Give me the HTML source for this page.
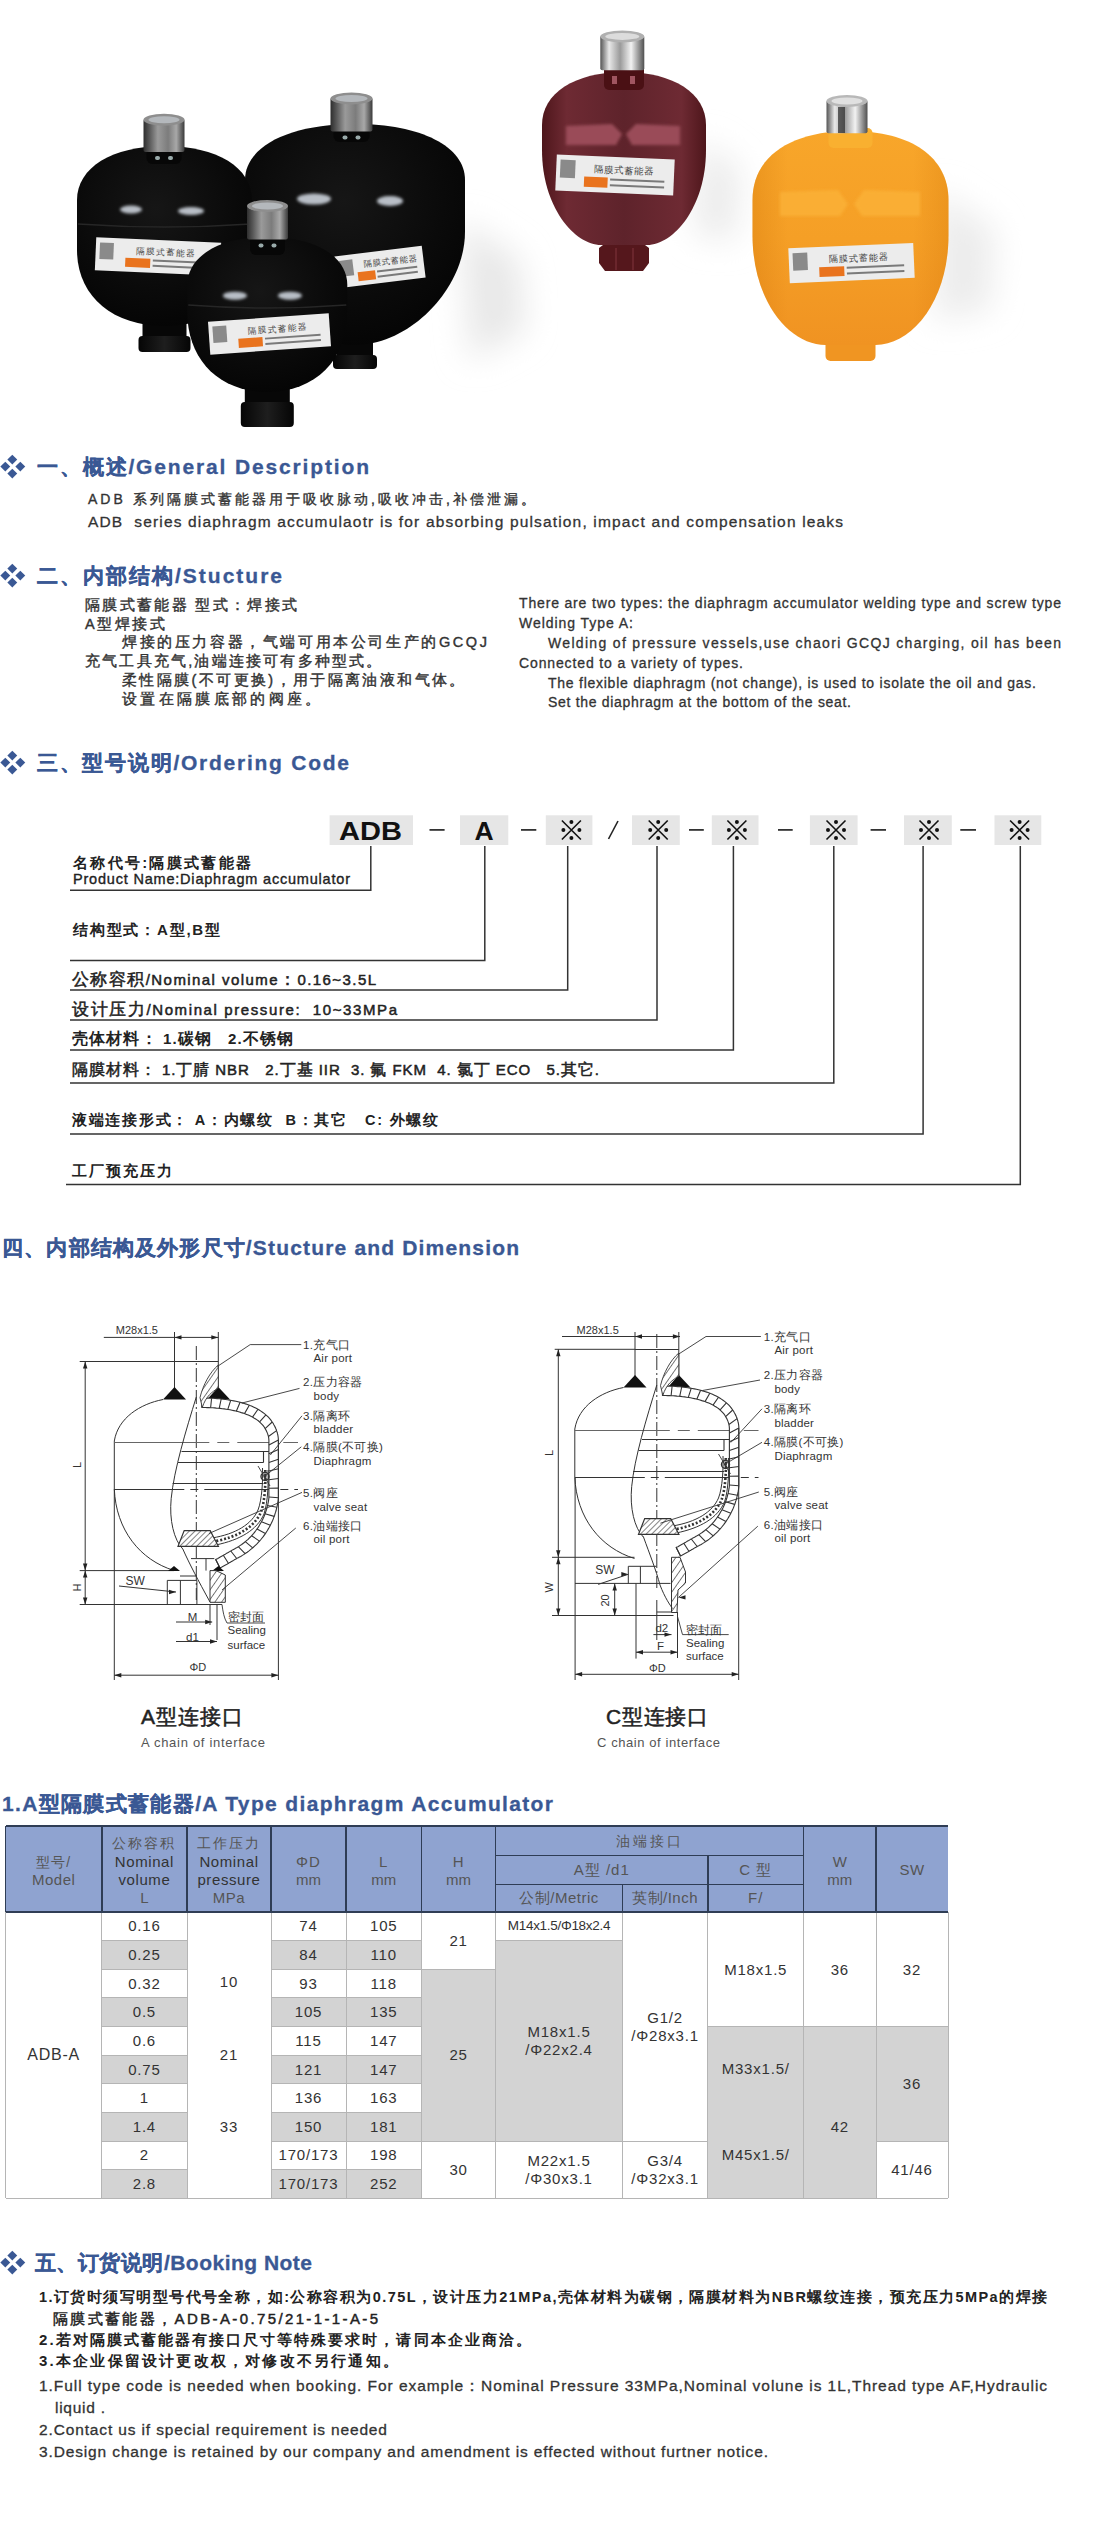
<!DOCTYPE html>
<html><head><meta charset="utf-8">
<style>
html,body{margin:0;padding:0;background:#fff;}
body{width:1096px;height:2536px;position:relative;overflow:hidden;font-family:"Liberation Sans",sans-serif;color:#222;}
.tx{position:absolute;white-space:nowrap;}
.dia{position:absolute;width:0;height:0;}
.dia i{position:absolute;width:6.6px;height:6.6px;background:#3a5894;transform:rotate(45deg);}
svg{position:absolute;}
</style></head><body>
<svg style="left:0;top:0" width="1096" height="440" viewBox="0 0 1096 440"><defs>
<radialGradient id="gblk" cx="0.45" cy="0.35" r="0.75"><stop offset="0" stop-color="#161616"/><stop offset="0.6" stop-color="#0a0a0a"/><stop offset="1" stop-color="#030303"/></radialGradient>
<linearGradient id="gcap" x1="0" x2="1" y1="0" y2="0"><stop offset="0" stop-color="#2e2e2e"/><stop offset="0.15" stop-color="#5a5a5a"/><stop offset="0.35" stop-color="#9a9a9a"/><stop offset="0.6" stop-color="#7c7c7c"/><stop offset="0.8" stop-color="#a8a8a8"/><stop offset="1" stop-color="#3a3a3a"/></linearGradient>
<linearGradient id="gport" x1="0" x2="1"><stop offset="0" stop-color="#050505"/><stop offset="0.5" stop-color="#1e1e1e"/><stop offset="1" stop-color="#050505"/></linearGradient>
<linearGradient id="gred" x1="0" x2="1" y1="0" y2="0"><stop offset="0" stop-color="#4e161b"/><stop offset="0.15" stop-color="#6e2a33"/><stop offset="0.5" stop-color="#5e232b"/><stop offset="0.85" stop-color="#6e2a33"/><stop offset="1" stop-color="#4e161b"/></linearGradient>
<linearGradient id="gorg" x1="0" x2="0" y1="0" y2="1"><stop offset="0" stop-color="#f8a62a"/><stop offset="0.5" stop-color="#f59f26"/><stop offset="1" stop-color="#f09322"/></linearGradient><linearGradient id="gedge" x1="0" x2="1"><stop offset="0" stop-color="#c86a00" stop-opacity="0.25"/><stop offset="0.18" stop-color="#c86a00" stop-opacity="0"/><stop offset="0.82" stop-color="#c86a00" stop-opacity="0"/><stop offset="1" stop-color="#c86a00" stop-opacity="0.22"/></linearGradient>
<linearGradient id="gchrome" x1="0" x2="1"><stop offset="0" stop-color="#555"/><stop offset="0.2" stop-color="#e8e8e8"/><stop offset="0.45" stop-color="#9a9a9a"/><stop offset="0.7" stop-color="#f2f2f2"/><stop offset="1" stop-color="#505050"/></linearGradient>
<filter id="blur1" x="-50%" y="-50%" width="200%" height="200%"><feGaussianBlur stdDeviation="1.6"/></filter>
<filter id="blur8" x="-50%" y="-50%" width="200%" height="200%"><feGaussianBlur stdDeviation="16"/></filter>
</defs><path d="M460,220 L520,260 L525,330 L470,360 Z" fill="#e8e8e8" filter="url(#blur8)"/><path d="M700,140 L740,170 L735,240 L695,235 Z" fill="#ebebeb" filter="url(#blur8)"/><path d="M935,190 L995,230 L990,310 L935,320 Z" fill="#ececec" filter="url(#blur8)"/><rect x="337.0" y="337" width="36" height="20" fill="#070707"/><rect x="333.0" y="355" width="44" height="14" rx="4" fill="url(#gport)"/><path d="M245,180 C245,146.4 289.0,124 355,124 C421.0,124 465,146.4 465,180 L465,232 C465,288.5 410.0,345 355,345 C300.0,345 245,288.5 245,232 Z" fill="url(#gblk)"/><ellipse cx="314" cy="199" rx="17" ry="5.5" fill="#b8bec6" filter="url(#blur1)"/><ellipse cx="390" cy="201" rx="13" ry="5" fill="#b8bec6" filter="url(#blur1)"/><rect x="333.5" y="127.5" width="36" height="14.5" rx="6" fill="#070707"/><rect x="342.5" y="135.5" width="5" height="4" rx="2" fill="#9aa"/><rect x="355.5" y="135.5" width="5" height="4" rx="2" fill="#9aa"/><rect x="330.5" y="97.5" width="42" height="34.0" rx="2" fill="url(#gcap)"/><ellipse cx="351.5" cy="98.5" rx="21.0" ry="6" fill="#8e8e8e"/><ellipse cx="351.5" cy="98.5" rx="16.0" ry="3.5" fill="#b4b8bc"/><g transform="rotate(-7 380.0 267.0)"><rect x="336" y="251" width="88" height="32" fill="#ececec"/><rect x="340" y="256" width="13.4" height="16.0" fill="#8a8a8a"/><text x="364.2" y="265.4" font-size="8.3" fill="#444" font-family="Liberation Sans" letter-spacing="1">隔膜式蓄能器</text><rect x="357.1" y="269.6" width="17.6" height="9.0" fill="#e9731e"/><rect x="376.5" y="270.2" width="40.5" height="2" fill="#7a7a7a"/><rect x="376.5" y="275.3" width="40.5" height="2" fill="#7a7a7a"/></g><rect x="142.5" y="318" width="44" height="20" fill="#070707"/><rect x="138.5" y="336" width="52" height="16" rx="4" fill="url(#gport)"/><path d="M77.0,200 C77.0,167.6 112.0,146 164.5,146 C217.0,146 252.0,167.6 252.0,200 L252.0,250 C252.0,295.6 217.0,326 164.5,326 C112.0,326 77.0,295.6 77.0,250 Z" fill="url(#gblk)"/><path d="M78.0,224 Q164.5,230 251.0,224" stroke="#262626" stroke-width="1.5" fill="none"/><ellipse cx="131" cy="209.5" rx="11" ry="4" fill="#b8bec6" filter="url(#blur1)"/><ellipse cx="191" cy="211" rx="13" ry="4" fill="#b8bec6" filter="url(#blur1)"/><rect x="146.5" y="148" width="35" height="16" rx="6" fill="#070707"/><rect x="155.0" y="156" width="5" height="4" rx="2" fill="#9aa"/><rect x="168.0" y="156" width="5" height="4" rx="2" fill="#9aa"/><rect x="143.5" y="118.7" width="41" height="33.3" rx="2" fill="url(#gcap)"/><ellipse cx="164" cy="119.7" rx="20.5" ry="6" fill="#8e8e8e"/><ellipse cx="164" cy="119.7" rx="15.5" ry="3.5" fill="#b4b8bc"/><g transform="rotate(2.5 158.0 256.5)"><rect x="95.5" y="240" width="125" height="33" fill="#ececec"/><rect x="99.5" y="245" width="13.9" height="16.5" fill="#8a8a8a"/><text x="135.5" y="254.8" font-size="8.6" fill="#444" font-family="Liberation Sans" letter-spacing="1">隔膜式蓄能器</text><rect x="125.5" y="259.1" width="25.0" height="9.2" fill="#e9731e"/><rect x="153.0" y="259.8" width="57.5" height="2" fill="#7a7a7a"/><rect x="153.0" y="265.1" width="57.5" height="2" fill="#7a7a7a"/></g><rect x="244.8" y="384" width="45" height="20" fill="#070707"/><rect x="240.8" y="402" width="53" height="25" rx="4" fill="url(#gport)"/><path d="M187.3,285 C187.3,256.2 219.3,237 267.3,237 C315.3,237 347.3,256.2 347.3,285 L347.3,312 C347.3,360.0 315.3,392 267.3,392 C219.3,392 187.3,360.0 187.3,312 Z" fill="url(#gblk)"/><path d="M188.3,305 Q267.3,311 346.3,305" stroke="#262626" stroke-width="1.5" fill="none"/><ellipse cx="235" cy="295.7" rx="12" ry="4" fill="#b8bec6" filter="url(#blur1)"/><ellipse cx="290" cy="295.7" rx="12" ry="4" fill="#b8bec6" filter="url(#blur1)"/><rect x="250.0" y="235.6" width="35" height="19.400000000000006" rx="6" fill="#070707"/><rect x="258.5" y="243.6" width="5" height="4" rx="2" fill="#9aa"/><rect x="271.5" y="243.6" width="5" height="4" rx="2" fill="#9aa"/><rect x="247.0" y="205" width="41" height="34.599999999999994" rx="2" fill="url(#gcap)"/><ellipse cx="267.5" cy="206" rx="20.5" ry="6" fill="#8e8e8e"/><ellipse cx="267.5" cy="206" rx="15.5" ry="3.5" fill="#b4b8bc"/><g transform="rotate(-4 269.5 334.0)"><rect x="209" y="317.5" width="121" height="33" fill="#ececec"/><rect x="213" y="322.5" width="13.9" height="16.5" fill="#8a8a8a"/><text x="247.7" y="332.4" font-size="8.6" fill="#444" font-family="Liberation Sans" letter-spacing="1">隔膜式蓄能器</text><rect x="238.0" y="336.6" width="24.2" height="9.2" fill="#e9731e"/><rect x="264.7" y="337.3" width="55.7" height="2" fill="#7a7a7a"/><rect x="264.7" y="342.6" width="55.7" height="2" fill="#7a7a7a"/></g><path d="M604,239 L644,239 L645,245 L649,248 L649,263 L643,271 L605,271 L599,263 L599,248 L603,245 Z" fill="#55171c"/><path d="M616,248 L616,270 M633,248 L633,270" stroke="#7a3038" stroke-width="1.2"/><path d="M542,125 C542,93.2 574.8,72 624,72 C673.2,72 706,93.2 706,125 L706,150 C706,207.0 673.5,245 647,245 L601,245 C574.5,245 542,207.0 542,150 Z" fill="url(#gred)"/><path d="M566,126 L612,124 L622,134 L616,145 L566,145 Z" fill="#9a4c58" filter="url(#blur1)"/><path d="M680,126 L636,124 L626,134 L632,145 L680,145 Z" fill="#9a4c58" filter="url(#blur1)"/><rect x="604" y="64" width="40" height="26" rx="5" fill="#4a1014"/><rect x="612" y="76" width="5" height="8" fill="#a05560"/><rect x="630" y="76" width="5" height="8" fill="#a05560"/><rect x="600.3" y="35.4" width="44" height="34.9" rx="2" fill="url(#gchrome)"/><ellipse cx="622.3" cy="36.4" rx="22.0" ry="6" fill="#b0b0b0"/><ellipse cx="622.3" cy="36.4" rx="17.0" ry="3.5" fill="#dcdcdc"/><g transform="rotate(2.5 615.0 175.0)"><rect x="556" y="157" width="118" height="36" fill="#ececec"/><rect x="560" y="162" width="15.1" height="18.0" fill="#8a8a8a"/><text x="593.8" y="173.2" font-size="9.4" fill="#444" font-family="Liberation Sans" letter-spacing="1">隔膜式蓄能器</text><rect x="584.3" y="177.9" width="23.6" height="10.1" fill="#e9731e"/><rect x="610.3" y="178.6" width="54.3" height="2" fill="#7a7a7a"/><rect x="610.3" y="184.4" width="54.3" height="2" fill="#7a7a7a"/></g><rect x="825.5" y="337" width="50" height="24" rx="5" fill="#f09522"/><path d="M752.5,200 C752.5,157.2 789.7,131 850.5,131 C911.3,131 948.5,157.2 948.5,200 L948.5,235 C948.5,301.0 912.0,345 875.5,345 L825.5,345 C789.0,345 752.5,301.0 752.5,235 Z" fill="url(#gorg)"/><path d="M752.5,200 C752.5,157.2 789.7,131 850.5,131 C911.3,131 948.5,157.2 948.5,200 L948.5,235 C948.5,301.0 912.0,345 875.5,345 L825.5,345 C789.0,345 752.5,301.0 752.5,235 Z" fill="url(#gedge)"/><path d="M780,192 L838,190 L848,204 L840,216 L780,216 Z" fill="#fbb238" opacity="0.8" filter="url(#blur1)"/><path d="M920,192 L864,190 L854,204 L862,216 L920,216 Z" fill="#fbb238" opacity="0.8" filter="url(#blur1)"/><rect x="828.5" y="128" width="44" height="20" rx="5" fill="#f9b030"/><rect x="826.5" y="100" width="41" height="33.19999999999999" rx="2" fill="url(#gchrome)"/><ellipse cx="847" cy="101" rx="20.5" ry="6" fill="#b8b8b8"/><ellipse cx="847" cy="101" rx="15.5" ry="3.5" fill="#e0e0e0"/><rect x="838" y="107" width="7" height="26" fill="#2a2a2a" opacity="0.7"/><g transform="rotate(-2.5 851.5 263.1)"><rect x="789" y="245.6" width="125" height="35" fill="#ececec"/><rect x="793" y="250.6" width="14.7" height="17.5" fill="#8a8a8a"/><text x="829.0" y="261.4" font-size="9.1" fill="#444" font-family="Liberation Sans" letter-spacing="1">隔膜式蓄能器</text><rect x="819.0" y="265.9" width="25.0" height="9.8" fill="#e9731e"/><rect x="846.5" y="266.6" width="57.5" height="2" fill="#7a7a7a"/><rect x="846.5" y="272.2" width="57.5" height="2" fill="#7a7a7a"/></g></svg>
<div class="dia" style="left:0;top:0"><i style="left:9.3px;top:456.1px"></i><i style="left:1.6px;top:463.2px"></i><i style="left:16.5px;top:463.2px"></i><i style="left:9.3px;top:470.3px"></i></div>
<div class="dia" style="left:0;top:0"><i style="left:9.3px;top:565.1px"></i><i style="left:1.6px;top:572.2px"></i><i style="left:16.5px;top:572.2px"></i><i style="left:9.3px;top:579.3px"></i></div>
<div class="dia" style="left:0;top:0"><i style="left:9.3px;top:752.1px"></i><i style="left:1.6px;top:759.2px"></i><i style="left:16.5px;top:759.2px"></i><i style="left:9.3px;top:766.3px"></i></div>
<div class="dia" style="left:0;top:0"><i style="left:9.3px;top:2252.1px"></i><i style="left:1.6px;top:2259.2px"></i><i style="left:16.5px;top:2259.2px"></i><i style="left:9.3px;top:2266.3px"></i></div>
<svg style="left:0;top:800px" width="1096" height="400" viewBox="0 800 1096 400"><rect x="329.6" y="815.3" width="83.4" height="29.7" fill="#e6e6e6"/><rect x="460" y="815.3" width="48.3" height="29.7" fill="#e6e6e6"/><rect x="545.8" y="815.3" width="46.6" height="29.7" fill="#e6e6e6"/><path d="M561.9,820.5 L580.9,839.5 M580.9,820.5 L561.9,839.5" stroke="#111" stroke-width="1.6"/><circle cx="571.4" cy="822" r="2" fill="#111"/><circle cx="571.4" cy="838" r="2" fill="#111"/><circle cx="563.4" cy="830" r="2" fill="#111"/><circle cx="579.4" cy="830" r="2" fill="#111"/><rect x="632" y="815.3" width="47.8" height="29.7" fill="#e6e6e6"/><path d="M648.7,820.5 L667.7,839.5 M667.7,820.5 L648.7,839.5" stroke="#111" stroke-width="1.6"/><circle cx="658.2" cy="822" r="2" fill="#111"/><circle cx="658.2" cy="838" r="2" fill="#111"/><circle cx="650.2" cy="830" r="2" fill="#111"/><circle cx="666.2" cy="830" r="2" fill="#111"/><rect x="711.8" y="815.3" width="46.7" height="29.7" fill="#e6e6e6"/><path d="M727.4,820.5 L746.4,839.5 M746.4,820.5 L727.4,839.5" stroke="#111" stroke-width="1.6"/><circle cx="736.9" cy="822" r="2" fill="#111"/><circle cx="736.9" cy="838" r="2" fill="#111"/><circle cx="728.9" cy="830" r="2" fill="#111"/><circle cx="744.9" cy="830" r="2" fill="#111"/><rect x="809.9" y="815.3" width="47.7" height="29.7" fill="#e6e6e6"/><path d="M826.5,820.5 L845.5,839.5 M845.5,820.5 L826.5,839.5" stroke="#111" stroke-width="1.6"/><circle cx="836" cy="822" r="2" fill="#111"/><circle cx="836" cy="838" r="2" fill="#111"/><circle cx="828" cy="830" r="2" fill="#111"/><circle cx="844" cy="830" r="2" fill="#111"/><rect x="904" y="815.3" width="47.8" height="29.7" fill="#e6e6e6"/><path d="M919.5,820.5 L938.5,839.5 M938.5,820.5 L919.5,839.5" stroke="#111" stroke-width="1.6"/><circle cx="929" cy="822" r="2" fill="#111"/><circle cx="929" cy="838" r="2" fill="#111"/><circle cx="921" cy="830" r="2" fill="#111"/><circle cx="937" cy="830" r="2" fill="#111"/><rect x="994.5" y="815.3" width="46.8" height="29.7" fill="#e6e6e6"/><path d="M1010.1,820.5 L1029.1,839.5 M1029.1,820.5 L1010.1,839.5" stroke="#111" stroke-width="1.6"/><circle cx="1019.6" cy="822" r="2" fill="#111"/><circle cx="1019.6" cy="838" r="2" fill="#111"/><circle cx="1011.6" cy="830" r="2" fill="#111"/><circle cx="1027.6" cy="830" r="2" fill="#111"/><text x="339" y="840.3" font-family="Liberation Sans" font-weight="bold" font-size="26.5" fill="#111" textLength="63" lengthAdjust="spacingAndGlyphs">ADB</text><text x="474.5" y="840.3" font-family="Liberation Sans" font-weight="bold" font-size="26.5" fill="#111">A</text><rect x="429.5" y="829" width="15.1" height="1.8" fill="#333"/><rect x="521" y="829" width="15.3" height="1.8" fill="#333"/><rect x="689" y="829" width="14.8" height="1.8" fill="#333"/><rect x="778" y="829" width="14.7" height="1.8" fill="#333"/><rect x="870.6" y="829" width="15.4" height="1.8" fill="#333"/><rect x="960.3" y="829" width="15.7" height="1.8" fill="#333"/><path d="M618,821 L608.5,839" stroke="#222" stroke-width="1.6"/><path d="M370.8,846 L370.8,890.2 L70,890.2" stroke="#333" stroke-width="1.5" fill="none"/><path d="M484.8,846 L484.8,960.5 L70,960.5" stroke="#333" stroke-width="1.5" fill="none"/><path d="M567.7,846 L567.7,990 L70,990" stroke="#333" stroke-width="1.5" fill="none"/><path d="M657,846 L657,1020 L70,1020" stroke="#333" stroke-width="1.5" fill="none"/><path d="M733.4,846 L733.4,1050 L70,1050" stroke="#333" stroke-width="1.5" fill="none"/><path d="M833.8,846 L833.8,1083 L70,1083" stroke="#333" stroke-width="1.5" fill="none"/><path d="M923.1,846 L923.1,1134 L70,1134" stroke="#333" stroke-width="1.5" fill="none"/><path d="M1020.3,846 L1020.3,1184.5 L66,1184.5" stroke="#333" stroke-width="1.5" fill="none"/></svg>
<svg style="left:0;top:1300px" width="548" height="400" viewBox="0 1300 548 400"><defs>
<pattern id="hatch" patternUnits="userSpaceOnUse" width="5.5" height="5.5" patternTransform="rotate(35)"><rect width="5.5" height="5.5" fill="#fff"/><line x1="0" y1="0" x2="0" y2="5.5" stroke="#333" stroke-width="1.3"/></pattern>
<pattern id="hatch2" patternUnits="userSpaceOnUse" width="4" height="4" patternTransform="rotate(45)"><rect width="4" height="4" fill="#fff"/><line x1="0" y1="0" x2="0" y2="4" stroke="#333" stroke-width="1.2"/></pattern>
</defs><g transform="translate(0,0)"><path d="M174.5,1332 L174.5,1388 M218.3,1332 L218.3,1388" stroke="#333" fill="none" stroke-width="1.0" /><path d="M174.5,1361.5 L218.3,1361.5" stroke="#333" fill="none" stroke-width="1.0" /><polygon points="174.5,1387 163,1399.5 186,1399.5" fill="#111"/><polygon points="218.3,1387 207,1399.5 230,1399.5" fill="#111"/><path d="M196.3,1346 L196.3,1600" stroke="#333" fill="none" stroke-width="1" stroke-dasharray="14,3,2,3"/><path d="M163,1399.5 C140,1404 118,1418 114.3,1441 L114.3,1489 C116,1530 140,1560 174,1570.5" stroke="#333" fill="none" stroke-width="1.0" /><path d="M114.3,1442.5 L298,1442.5" stroke="#666" stroke-width="1.2" fill="none" stroke-dasharray="95,8,12,8,40,6"/><path d="M181.5,1451.5 L269,1451.5 M178,1462.5 L263.5,1462.5 M263.5,1451.5 L263.5,1462.5 M172.6,1483.5 L263.5,1483.5" stroke="#333" fill="none" stroke-width="1.1" /><path d="M114.3,1489.5 L298,1489.5" stroke="#333" fill="none" stroke-width="1" stroke-dasharray="70,6,8,6"/><path d="M202.0,1398.0 L203.8,1398.0 L205.6,1398.0 L207.4,1398.1 L209.3,1398.1 L211.2,1398.2 L213.2,1398.3 L215.2,1398.4 L217.2,1398.6 L219.2,1398.8 L221.3,1399.0 L223.3,1399.2 L225.4,1399.5 L227.5,1399.8 L229.6,1400.1 L231.7,1400.5 L233.8,1400.9 L235.9,1401.3 L238.0,1401.8 L240.1,1402.3 L242.1,1402.9 L244.2,1403.5 L246.2,1404.1 L248.1,1404.8 L250.1,1405.6 L252.0,1406.3 L253.9,1407.2 L255.7,1408.1 L257.5,1409.0 L259.2,1410.0 L260.9,1411.1 L262.5,1412.2 L264.1,1413.4 L265.6,1414.6 L267.0,1415.9 L268.4,1417.2 L269.7,1418.7 L270.9,1420.1 L272.0,1421.7 L273.1,1423.3 L274.0,1425.0 L274.3,1425.5 L274.6,1426.0 L274.8,1426.6 L275.1,1427.1 L275.3,1427.6 L275.6,1428.1 L275.8,1428.6 L276.0,1429.1 L276.2,1429.6 L276.4,1430.0 L276.5,1430.5 L276.7,1431.0 L276.9,1431.4 L277.0,1431.9 L277.1,1432.3 L277.3,1432.8 L277.4,1433.2 L277.5,1433.7 L277.6,1434.1 L277.7,1434.5 L277.8,1434.9 L277.9,1435.3 L277.9,1435.7 L278.0,1436.1 L278.1,1436.5 L278.1,1436.8 L278.2,1437.2 L278.2,1437.5 L278.2,1437.9 L278.3,1438.2 L278.3,1438.5 L278.3,1438.9 L278.3,1439.2 L278.4,1439.5 L278.4,1439.7 L278.4,1440.0 L278.4,1440.3 L278.4,1440.5 L278.4,1440.8 L278.4,1441.0 L278.4,1446.7 L278.4,1452.4 L278.4,1458.1 L278.4,1463.8 L278.4,1469.5 L278.4,1475.2 L278.4,1480.9 L278.4,1486.6 L278.4,1492.3 L278.4,1498.0 L278.2,1499.8 L278.0,1501.6 L277.7,1503.4 L277.3,1505.2 L277.0,1506.9 L276.5,1508.7 L276.1,1510.5 L275.6,1512.2 L275.0,1513.9 L274.5,1515.7 L273.8,1517.4 L273.2,1519.1 L272.5,1520.8 L271.7,1522.4 L270.9,1524.1 L270.1,1525.7 L269.3,1527.3 L268.3,1528.9 L267.4,1530.5 L266.4,1532.0 L265.4,1533.6 L264.3,1535.1 L263.2,1536.6 L262.1,1538.0 L260.9,1539.5 L259.7,1540.9 L258.5,1542.2 L257.2,1543.6 L255.9,1544.9 L254.5,1546.2 L253.1,1547.5 L251.7,1548.7 L250.2,1549.9 L248.7,1551.1 L247.2,1552.2 L245.6,1553.3 L244.0,1554.4 L242.4,1555.4 L240.7,1556.4 L239.0,1557.3 L238.5,1557.6 L238.0,1557.9 L237.4,1558.1 L236.9,1558.4 L236.4,1558.7 L235.9,1559.0 L235.4,1559.3 L234.9,1559.5 L234.4,1559.8 L233.9,1560.1 L233.4,1560.4 L232.9,1560.7 L232.5,1561.0 L232.0,1561.2 L231.5,1561.5 L231.0,1561.8 L230.5,1562.1 L230.1,1562.4 L229.6,1562.6 L229.1,1562.9 L228.7,1563.2 L228.2,1563.5 L227.7,1563.7 L227.3,1564.0 L226.8,1564.3 L226.3,1564.5 L225.9,1564.8 L225.4,1565.1 L225.0,1565.3 L224.5,1565.6 L224.1,1565.8 L223.6,1566.1 L223.2,1566.3 L222.7,1566.6 L222.3,1566.8 L221.8,1567.1 L221.4,1567.3 L220.9,1567.5 L220.5,1567.8 L220.0,1568.0 L215.7,1559.5 L216.1,1559.3 L216.5,1559.1 L216.9,1558.9 L217.4,1558.7 L217.8,1558.5 L218.2,1558.2 L218.6,1558.0 L219.0,1557.8 L219.4,1557.5 L219.8,1557.3 L220.3,1557.1 L220.7,1556.8 L221.1,1556.6 L221.6,1556.3 L222.0,1556.1 L222.5,1555.8 L222.9,1555.5 L223.4,1555.3 L223.8,1555.0 L224.3,1554.7 L224.8,1554.4 L225.3,1554.2 L225.7,1553.9 L226.2,1553.6 L226.7,1553.3 L227.2,1553.0 L227.7,1552.7 L228.2,1552.5 L228.7,1552.2 L229.2,1551.9 L229.7,1551.6 L230.2,1551.3 L230.7,1551.0 L231.3,1550.7 L231.8,1550.4 L232.3,1550.1 L232.9,1549.8 L233.4,1549.5 L234.0,1549.2 L234.4,1549.0 L236.0,1548.1 L237.5,1547.2 L238.9,1546.4 L240.3,1545.4 L241.7,1544.5 L243.0,1543.5 L244.3,1542.5 L245.6,1541.4 L246.8,1540.4 L248.1,1539.3 L249.2,1538.1 L250.4,1537.0 L251.5,1535.8 L252.6,1534.6 L253.7,1533.4 L254.7,1532.1 L255.7,1530.8 L256.6,1529.5 L257.6,1528.2 L258.5,1526.9 L259.3,1525.5 L260.1,1524.1 L260.9,1522.7 L261.7,1521.3 L262.4,1519.9 L263.1,1518.4 L263.8,1517.0 L264.4,1515.5 L265.0,1514.0 L265.5,1512.5 L266.0,1511.0 L266.5,1509.5 L266.9,1508.0 L267.3,1506.4 L267.7,1504.9 L268.0,1503.3 L268.3,1501.8 L268.6,1500.2 L268.8,1498.6 L268.9,1497.7 L268.9,1492.3 L268.9,1486.6 L268.9,1480.9 L268.9,1475.2 L268.9,1469.5 L268.9,1463.8 L268.9,1458.1 L268.9,1452.4 L268.9,1446.7 L268.9,1441.0 L268.9,1440.8 L268.9,1440.7 L268.9,1440.5 L268.9,1440.3 L268.9,1440.1 L268.9,1439.9 L268.9,1439.7 L268.8,1439.5 L268.8,1439.3 L268.8,1439.1 L268.8,1438.9 L268.8,1438.6 L268.7,1438.4 L268.7,1438.1 L268.7,1437.9 L268.6,1437.6 L268.6,1437.4 L268.5,1437.1 L268.5,1436.8 L268.4,1436.5 L268.4,1436.2 L268.3,1435.9 L268.2,1435.6 L268.1,1435.3 L268.0,1435.0 L267.9,1434.7 L267.8,1434.4 L267.7,1434.1 L267.6,1433.7 L267.5,1433.4 L267.4,1433.0 L267.2,1432.7 L267.1,1432.3 L266.9,1432.0 L266.7,1431.6 L266.6,1431.2 L266.4,1430.9 L266.2,1430.5 L266.0,1430.1 L265.7,1429.6 L264.9,1428.2 L264.2,1427.0 L263.4,1425.9 L262.5,1424.8 L261.5,1423.8 L260.5,1422.8 L259.4,1421.8 L258.3,1420.8 L257.0,1419.9 L255.7,1419.0 L254.3,1418.2 L252.9,1417.3 L251.4,1416.6 L249.9,1415.8 L248.3,1415.1 L246.6,1414.4 L244.9,1413.7 L243.1,1413.1 L241.3,1412.6 L239.5,1412.0 L237.7,1411.5 L235.8,1411.0 L233.9,1410.6 L232.0,1410.2 L230.0,1409.8 L228.1,1409.5 L226.1,1409.2 L224.2,1408.9 L222.2,1408.7 L220.3,1408.4 L218.3,1408.2 L216.4,1408.1 L214.5,1407.9 L212.6,1407.8 L210.8,1407.7 L208.9,1407.6 L207.1,1407.6 L205.4,1407.5 L203.7,1407.5 L202.0,1407.5 Z" fill="#fff" stroke="#333" stroke-width="1.1"/><path d="M202.0,1398.0 L202.0,1407.5 M211.6,1398.2 L210.6,1407.7 M221.2,1399.0 L219.2,1408.3 M230.7,1400.3 L227.8,1409.4 M240.1,1402.3 L236.3,1411.2 M249.3,1405.3 L244.5,1413.6 M258.0,1409.3 L252.5,1417.1 M265.9,1414.8 L259.6,1421.9 M272.2,1422.0 L265.1,1428.6 M276.6,1430.6 L268.4,1436.5 M278.4,1440.0 L268.9,1445.1 M278.4,1449.6 L268.9,1453.8 M278.4,1459.2 L268.9,1462.4 M278.4,1468.8 L268.9,1471.0 M278.4,1478.5 L268.9,1479.7 M278.4,1488.1 L268.9,1488.3 M278.4,1497.7 L268.9,1497.0 M276.9,1507.2 L267.5,1505.5 M274.2,1516.4 L265.0,1513.8 M270.3,1525.2 L261.5,1521.7 M265.4,1533.5 L257.0,1529.0 M259.5,1541.1 L251.6,1535.7 M252.7,1547.9 L245.3,1541.7 M245.1,1553.7 L238.3,1546.7 M236.7,1558.5 L230.8,1551.0 M228.4,1563.3 L223.3,1555.3 M220.0,1568.0 L215.7,1559.5" stroke="#333" fill="none" stroke-width="1.1" /><path d="M200,1397.6 C203,1385 210,1372 218.3,1365 L218.3,1388 C212,1392 206,1396 202.3,1407.4 Z" fill="url(#hatch)" stroke="#333" stroke-width="0.9"/><path d="M196.3,1397 C186,1430 174,1470 171.2,1498.4 C169,1520 174,1540 182.8,1549" stroke="#333" fill="none" stroke-width="1.0" /><path d="M262.5,1468 C263,1480 262,1500 258,1510 C252,1524 236,1534 212,1538" stroke="#333" fill="none" stroke-width="1" /><path d="M268,1470 C268.5,1482 268,1502 264,1514 C257,1530 240,1540 215.7,1545" stroke="#333" fill="none" stroke-width="1" /><path d="M265.3,1470 C265.8,1482 265,1501 261,1512 C254.5,1527 238,1537 214,1541.5" stroke="#333" fill="none" stroke-width="2.6" stroke-dasharray="2,2"/><circle cx="265" cy="1476.5" r="4" fill="none" stroke="#333" stroke-width="1.4"/><circle cx="265" cy="1476.5" r="1.5" fill="#333"/><path d="M258,1466 L270,1486" stroke="#333" fill="none" stroke-width="0.9" /><polygon points="184.2,1530.6 210.2,1530.6 218.4,1546.3 178,1546.3" fill="url(#hatch2)" stroke="#333" stroke-width="1.2"/></g><text x="115.8" y="1333.5" font-family="Liberation Sans" font-size="11" fill="#333" text-anchor="start" >M28x1.5</text><path d="M103.8,1337.4 L218.3,1337.4" stroke="#333" fill="none" stroke-width="1.0" /><polygon points="174.5,1337.4 181.5,1335.2 181.5,1339.6000000000001" fill="#222"/><polygon points="218.3,1337.4 211.3,1335.2 211.3,1339.6000000000001" fill="#222"/><path d="M79.7,1361.5 L174.5,1361.5" stroke="#333" fill="none" stroke-width="1.0" /><path d="M85.2,1361.5 L85.2,1604.5" stroke="#333" fill="none" stroke-width="1.0" /><polygon points="85.2,1361.5 83.0,1368.5 87.4,1368.5" fill="#222"/><polygon points="85.2,1570.6 83.0,1563.6 87.4,1563.6" fill="#222"/><polygon points="85.2,1570.6 83.0,1577.6 87.4,1577.6" fill="#222"/><polygon points="85.2,1604.5 83.0,1597.5 87.4,1597.5" fill="#222"/><text x="81" y="1465" font-family="Liberation Sans" font-size="11" fill="#333" text-anchor="middle" transform="rotate(-90 81 1465)" >L</text><text x="81" y="1587.5" font-family="Liberation Sans" font-size="11" fill="#333" text-anchor="middle" transform="rotate(-90 81 1587.5)" >H</text><path d="M182.8,1549 C190,1565 198,1580 210,1602" stroke="#333" fill="none" stroke-width="1.0" /><path d="M79.7,1570.6 L174,1570.6 M218,1570.6 L222,1570.6" stroke="#333" fill="none" stroke-width="1.0" /><polygon points="174,1566 168,1571 180,1571" fill="#111"/><polygon points="218.4,1566 212,1571 224,1571" fill="#111"/><path d="M191,1558.6 L214.3,1558.6 M206,1558.6 L206,1570.6" stroke="#333" fill="none" stroke-width="1.0" /><path d="M79.7,1604.5 L222,1604.5" stroke="#333" fill="none" stroke-width="1.0" /><path d="M167.3,1580.4 L196.9,1580.4 L196.9,1604.5 M167.3,1580.4 L167.3,1604.5 M180.4,1580.4 L180.4,1604.5 M180,1576 L196.9,1576" stroke="#333" fill="none" stroke-width="1.0" /><polygon points="210,1570.6 216,1570.6 225.3,1575 225.3,1602.3 210,1602.3" fill="url(#hatch)" stroke="#333" stroke-width="1"/><text x="125.5" y="1584.5" font-family="Liberation Sans" font-size="12" fill="#333" text-anchor="start" >SW</text><path d="M119,1586 L176,1592" stroke="#333" fill="none" stroke-width="1.0" /><polygon points="176,1592 169,1589.8 169,1594.2" fill="#222"/><text x="192.5" y="1620.5" font-family="Liberation Sans" font-size="11.5" fill="#333" text-anchor="middle" >M</text><path d="M176,1622 L212.2,1622" stroke="#333" fill="none" stroke-width="1.0" /><polygon points="212.2,1622 205.2,1619.8 205.2,1624.2" fill="#222"/><path d="M210,1604.5 L210,1625 M217,1604.5 L217,1640" stroke="#333" fill="none" stroke-width="1.0" /><text x="192.5" y="1640.5" font-family="Liberation Sans" font-size="11.5" fill="#333" text-anchor="middle" >d1</text><path d="M176,1641.5 L217,1641.5" stroke="#333" fill="none" stroke-width="1.0" /><polygon points="217,1641.5 210,1639.3 210,1643.7" fill="#222"/><path d="M222,1604.5 C223,1612 224,1618 227,1623 L265,1623" stroke="#333" fill="none" stroke-width="0.9" /><text x="227.5" y="1620.5" font-family="Liberation Sans" font-size="11.5" fill="#333" text-anchor="start" >密封面</text><text x="227.5" y="1634" font-family="Liberation Sans" font-size="11.5" fill="#333" text-anchor="start" >Sealing</text><text x="227.5" y="1649" font-family="Liberation Sans" font-size="11.5" fill="#333" text-anchor="start" >surface</text><path d="M114.3,1489 L114.3,1680 M278.4,1441 L278.4,1680" stroke="#333" fill="none" stroke-width="1.0" /><path d="M114.3,1675.2 L278.4,1675.2" stroke="#333" fill="none" stroke-width="1.0" /><polygon points="114.3,1675.2 121.3,1673.0 121.3,1677.4" fill="#222"/><polygon points="278.4,1675.2 271.4,1673.0 271.4,1677.4" fill="#222"/><text x="197.8" y="1671" font-family="Liberation Sans" font-size="11" fill="#333" text-anchor="middle" >ΦD</text><text x="303.1" y="1348.6" font-family="Liberation Sans" font-size="11.5" fill="#333" text-anchor="start" letter-spacing="0.3">1.充气口</text><text x="313.5" y="1362.3" font-family="Liberation Sans" font-size="11.5" fill="#333" text-anchor="start" letter-spacing="0.2">Air port</text><text x="303.1" y="1386" font-family="Liberation Sans" font-size="11.5" fill="#333" text-anchor="start" letter-spacing="0.3">2.压力容器</text><text x="313.5" y="1399.7" font-family="Liberation Sans" font-size="11.5" fill="#333" text-anchor="start" letter-spacing="0.2">body</text><text x="303.1" y="1419.8" font-family="Liberation Sans" font-size="11.5" fill="#333" text-anchor="start" letter-spacing="0.3">3.隔离环</text><text x="313.5" y="1432.6" font-family="Liberation Sans" font-size="11.5" fill="#333" text-anchor="start" letter-spacing="0.2">bladder</text><text x="303.1" y="1450.8" font-family="Liberation Sans" font-size="11.5" fill="#333" text-anchor="start" letter-spacing="0.3">4.隔膜(不可换)</text><text x="313.5" y="1464.5" font-family="Liberation Sans" font-size="11.5" fill="#333" text-anchor="start" letter-spacing="0.2">Diaphragm</text><text x="303.1" y="1497.4" font-family="Liberation Sans" font-size="11.5" fill="#333" text-anchor="start" letter-spacing="0.3">5.阀座</text><text x="313.5" y="1511" font-family="Liberation Sans" font-size="11.5" fill="#333" text-anchor="start" letter-spacing="0.2">valve seat</text><text x="303.1" y="1530.2" font-family="Liberation Sans" font-size="11.5" fill="#333" text-anchor="start" letter-spacing="0.3">6.油端接口</text><text x="313.5" y="1543" font-family="Liberation Sans" font-size="11.5" fill="#333" text-anchor="start" letter-spacing="0.2">oil port</text><path d="M217.3,1366.5 L250.2,1344.6 L301.3,1344.6" stroke="#333" fill="none" stroke-width="0.9" /><path d="M242,1403 L299.5,1388.4" stroke="#333" fill="none" stroke-width="0.9" /><path d="M270.3,1455 L302,1415.8" stroke="#333" fill="none" stroke-width="0.9" /><path d="M263.9,1477 L301.3,1446.8" stroke="#333" fill="none" stroke-width="0.9" /><path d="M209,1533.5 L302,1492.4" stroke="#333" fill="none" stroke-width="0.9" /><path d="M222,1590 L295.8,1528" stroke="#333" fill="none" stroke-width="0.9" /></svg>
<svg style="left:540px;top:1300px" width="556" height="400" viewBox="540 1300 556 400"><g transform="translate(460.5,-12)"><path d="M174.5,1344 L174.5,1388 M218.3,1344 L218.3,1388" stroke="#333" fill="none" stroke-width="1.0" /><path d="M174.5,1361.5 L218.3,1361.5" stroke="#333" fill="none" stroke-width="1.0" /><polygon points="174.5,1387 163,1399.5 186,1399.5" fill="#111"/><polygon points="218.3,1387 207,1399.5 230,1399.5" fill="#111"/><path d="M196.3,1346 L196.3,1600" stroke="#333" fill="none" stroke-width="1" stroke-dasharray="14,3,2,3"/><path d="M163,1399.5 C140,1404 118,1418 114.3,1441 L114.3,1489 C116,1530 140,1560 174,1570.5" stroke="#333" fill="none" stroke-width="1.0" /><path d="M114.3,1442.5 L298,1442.5" stroke="#666" stroke-width="1.2" fill="none" stroke-dasharray="95,8,12,8,40,6"/><path d="M181.5,1451.5 L269,1451.5 M178,1462.5 L263.5,1462.5 M263.5,1451.5 L263.5,1462.5 M172.6,1483.5 L263.5,1483.5" stroke="#333" fill="none" stroke-width="1.1" /><path d="M114.3,1489.5 L298,1489.5" stroke="#333" fill="none" stroke-width="1" stroke-dasharray="70,6,8,6"/><path d="M202.0,1398.0 L203.8,1398.0 L205.6,1398.0 L207.4,1398.1 L209.3,1398.1 L211.2,1398.2 L213.2,1398.3 L215.2,1398.4 L217.2,1398.6 L219.2,1398.8 L221.3,1399.0 L223.3,1399.2 L225.4,1399.5 L227.5,1399.8 L229.6,1400.1 L231.7,1400.5 L233.8,1400.9 L235.9,1401.3 L238.0,1401.8 L240.1,1402.3 L242.1,1402.9 L244.2,1403.5 L246.2,1404.1 L248.1,1404.8 L250.1,1405.6 L252.0,1406.3 L253.9,1407.2 L255.7,1408.1 L257.5,1409.0 L259.2,1410.0 L260.9,1411.1 L262.5,1412.2 L264.1,1413.4 L265.6,1414.6 L267.0,1415.9 L268.4,1417.2 L269.7,1418.7 L270.9,1420.1 L272.0,1421.7 L273.1,1423.3 L274.0,1425.0 L274.3,1425.5 L274.6,1426.0 L274.8,1426.6 L275.1,1427.1 L275.3,1427.6 L275.6,1428.1 L275.8,1428.6 L276.0,1429.1 L276.2,1429.6 L276.4,1430.0 L276.5,1430.5 L276.7,1431.0 L276.9,1431.4 L277.0,1431.9 L277.1,1432.3 L277.3,1432.8 L277.4,1433.2 L277.5,1433.7 L277.6,1434.1 L277.7,1434.5 L277.8,1434.9 L277.9,1435.3 L277.9,1435.7 L278.0,1436.1 L278.1,1436.5 L278.1,1436.8 L278.2,1437.2 L278.2,1437.5 L278.2,1437.9 L278.3,1438.2 L278.3,1438.5 L278.3,1438.9 L278.3,1439.2 L278.4,1439.5 L278.4,1439.7 L278.4,1440.0 L278.4,1440.3 L278.4,1440.5 L278.4,1440.8 L278.4,1441.0 L278.4,1446.7 L278.4,1452.4 L278.4,1458.1 L278.4,1463.8 L278.4,1469.5 L278.4,1475.2 L278.4,1480.9 L278.4,1486.6 L278.4,1492.3 L278.4,1498.0 L278.2,1499.8 L278.0,1501.6 L277.7,1503.4 L277.3,1505.2 L277.0,1506.9 L276.5,1508.7 L276.1,1510.5 L275.6,1512.2 L275.0,1513.9 L274.5,1515.7 L273.8,1517.4 L273.2,1519.1 L272.5,1520.8 L271.7,1522.4 L270.9,1524.1 L270.1,1525.7 L269.3,1527.3 L268.3,1528.9 L267.4,1530.5 L266.4,1532.0 L265.4,1533.6 L264.3,1535.1 L263.2,1536.6 L262.1,1538.0 L260.9,1539.5 L259.7,1540.9 L258.5,1542.2 L257.2,1543.6 L255.9,1544.9 L254.5,1546.2 L253.1,1547.5 L251.7,1548.7 L250.2,1549.9 L248.7,1551.1 L247.2,1552.2 L245.6,1553.3 L244.0,1554.4 L242.4,1555.4 L240.7,1556.4 L239.0,1557.3 L238.5,1557.6 L238.0,1557.9 L237.4,1558.1 L236.9,1558.4 L236.4,1558.7 L235.9,1559.0 L235.4,1559.3 L234.9,1559.5 L234.4,1559.8 L233.9,1560.1 L233.4,1560.4 L232.9,1560.7 L232.5,1561.0 L232.0,1561.2 L231.5,1561.5 L231.0,1561.8 L230.5,1562.1 L230.1,1562.4 L229.6,1562.6 L229.1,1562.9 L228.7,1563.2 L228.2,1563.5 L227.7,1563.7 L227.3,1564.0 L226.8,1564.3 L226.3,1564.5 L225.9,1564.8 L225.4,1565.1 L225.0,1565.3 L224.5,1565.6 L224.1,1565.8 L223.6,1566.1 L223.2,1566.3 L222.7,1566.6 L222.3,1566.8 L221.8,1567.1 L221.4,1567.3 L220.9,1567.5 L220.5,1567.8 L220.0,1568.0 L215.7,1559.5 L216.1,1559.3 L216.5,1559.1 L216.9,1558.9 L217.4,1558.7 L217.8,1558.5 L218.2,1558.2 L218.6,1558.0 L219.0,1557.8 L219.4,1557.5 L219.8,1557.3 L220.3,1557.1 L220.7,1556.8 L221.1,1556.6 L221.6,1556.3 L222.0,1556.1 L222.5,1555.8 L222.9,1555.5 L223.4,1555.3 L223.8,1555.0 L224.3,1554.7 L224.8,1554.4 L225.3,1554.2 L225.7,1553.9 L226.2,1553.6 L226.7,1553.3 L227.2,1553.0 L227.7,1552.7 L228.2,1552.5 L228.7,1552.2 L229.2,1551.9 L229.7,1551.6 L230.2,1551.3 L230.7,1551.0 L231.3,1550.7 L231.8,1550.4 L232.3,1550.1 L232.9,1549.8 L233.4,1549.5 L234.0,1549.2 L234.4,1549.0 L236.0,1548.1 L237.5,1547.2 L238.9,1546.4 L240.3,1545.4 L241.7,1544.5 L243.0,1543.5 L244.3,1542.5 L245.6,1541.4 L246.8,1540.4 L248.1,1539.3 L249.2,1538.1 L250.4,1537.0 L251.5,1535.8 L252.6,1534.6 L253.7,1533.4 L254.7,1532.1 L255.7,1530.8 L256.6,1529.5 L257.6,1528.2 L258.5,1526.9 L259.3,1525.5 L260.1,1524.1 L260.9,1522.7 L261.7,1521.3 L262.4,1519.9 L263.1,1518.4 L263.8,1517.0 L264.4,1515.5 L265.0,1514.0 L265.5,1512.5 L266.0,1511.0 L266.5,1509.5 L266.9,1508.0 L267.3,1506.4 L267.7,1504.9 L268.0,1503.3 L268.3,1501.8 L268.6,1500.2 L268.8,1498.6 L268.9,1497.7 L268.9,1492.3 L268.9,1486.6 L268.9,1480.9 L268.9,1475.2 L268.9,1469.5 L268.9,1463.8 L268.9,1458.1 L268.9,1452.4 L268.9,1446.7 L268.9,1441.0 L268.9,1440.8 L268.9,1440.7 L268.9,1440.5 L268.9,1440.3 L268.9,1440.1 L268.9,1439.9 L268.9,1439.7 L268.8,1439.5 L268.8,1439.3 L268.8,1439.1 L268.8,1438.9 L268.8,1438.6 L268.7,1438.4 L268.7,1438.1 L268.7,1437.9 L268.6,1437.6 L268.6,1437.4 L268.5,1437.1 L268.5,1436.8 L268.4,1436.5 L268.4,1436.2 L268.3,1435.9 L268.2,1435.6 L268.1,1435.3 L268.0,1435.0 L267.9,1434.7 L267.8,1434.4 L267.7,1434.1 L267.6,1433.7 L267.5,1433.4 L267.4,1433.0 L267.2,1432.7 L267.1,1432.3 L266.9,1432.0 L266.7,1431.6 L266.6,1431.2 L266.4,1430.9 L266.2,1430.5 L266.0,1430.1 L265.7,1429.6 L264.9,1428.2 L264.2,1427.0 L263.4,1425.9 L262.5,1424.8 L261.5,1423.8 L260.5,1422.8 L259.4,1421.8 L258.3,1420.8 L257.0,1419.9 L255.7,1419.0 L254.3,1418.2 L252.9,1417.3 L251.4,1416.6 L249.9,1415.8 L248.3,1415.1 L246.6,1414.4 L244.9,1413.7 L243.1,1413.1 L241.3,1412.6 L239.5,1412.0 L237.7,1411.5 L235.8,1411.0 L233.9,1410.6 L232.0,1410.2 L230.0,1409.8 L228.1,1409.5 L226.1,1409.2 L224.2,1408.9 L222.2,1408.7 L220.3,1408.4 L218.3,1408.2 L216.4,1408.1 L214.5,1407.9 L212.6,1407.8 L210.8,1407.7 L208.9,1407.6 L207.1,1407.6 L205.4,1407.5 L203.7,1407.5 L202.0,1407.5 Z" fill="#fff" stroke="#333" stroke-width="1.1"/><path d="M202.0,1398.0 L202.0,1407.5 M211.6,1398.2 L210.6,1407.7 M221.2,1399.0 L219.2,1408.3 M230.7,1400.3 L227.8,1409.4 M240.1,1402.3 L236.3,1411.2 M249.3,1405.3 L244.5,1413.6 M258.0,1409.3 L252.5,1417.1 M265.9,1414.8 L259.6,1421.9 M272.2,1422.0 L265.1,1428.6 M276.6,1430.6 L268.4,1436.5 M278.4,1440.0 L268.9,1445.1 M278.4,1449.6 L268.9,1453.8 M278.4,1459.2 L268.9,1462.4 M278.4,1468.8 L268.9,1471.0 M278.4,1478.5 L268.9,1479.7 M278.4,1488.1 L268.9,1488.3 M278.4,1497.7 L268.9,1497.0 M276.9,1507.2 L267.5,1505.5 M274.2,1516.4 L265.0,1513.8 M270.3,1525.2 L261.5,1521.7 M265.4,1533.5 L257.0,1529.0 M259.5,1541.1 L251.6,1535.7 M252.7,1547.9 L245.3,1541.7 M245.1,1553.7 L238.3,1546.7 M236.7,1558.5 L230.8,1551.0 M228.4,1563.3 L223.3,1555.3 M220.0,1568.0 L215.7,1559.5" stroke="#333" fill="none" stroke-width="1.1" /><path d="M200,1397.6 C203,1385 210,1372 218.3,1365 L218.3,1388 C212,1392 206,1396 202.3,1407.4 Z" fill="url(#hatch)" stroke="#333" stroke-width="0.9"/><path d="M196.3,1397 C186,1430 174,1470 171.2,1498.4 C169,1520 174,1540 182.8,1549" stroke="#333" fill="none" stroke-width="1.0" /><path d="M262.5,1468 C263,1480 262,1500 258,1510 C252,1524 236,1534 212,1538" stroke="#333" fill="none" stroke-width="1" /><path d="M268,1470 C268.5,1482 268,1502 264,1514 C257,1530 240,1540 215.7,1545" stroke="#333" fill="none" stroke-width="1" /><path d="M265.3,1470 C265.8,1482 265,1501 261,1512 C254.5,1527 238,1537 214,1541.5" stroke="#333" fill="none" stroke-width="2.6" stroke-dasharray="2,2"/><circle cx="265" cy="1476.5" r="4" fill="none" stroke="#333" stroke-width="1.4"/><circle cx="265" cy="1476.5" r="1.5" fill="#333"/><path d="M258,1466 L270,1486" stroke="#333" fill="none" stroke-width="0.9" /><polygon points="184.2,1530.6 210.2,1530.6 218.4,1546.3 178,1546.3" fill="url(#hatch2)" stroke="#333" stroke-width="1.2"/></g><text x="576.6" y="1333.5" font-family="Liberation Sans" font-size="11" fill="#333" text-anchor="start" >M28x1.5</text><path d="M562,1336.5 L680,1336.5" stroke="#333" fill="none" stroke-width="1.0" /><polygon points="635,1336.5 642,1334.3 642,1338.7" fill="#222"/><polygon points="679.9,1336.5 672.9,1334.3 672.9,1338.7" fill="#222"/><path d="M554.7,1349.3 L635,1349.3" stroke="#333" fill="none" stroke-width="1.0" /><path d="M558.3,1349.3 L558.3,1615.5" stroke="#333" fill="none" stroke-width="1.0" /><polygon points="558.3,1349.3 556.0999999999999,1356.3 560.5,1356.3" fill="#222"/><polygon points="558.3,1557.3 556.0999999999999,1550.3 560.5,1550.3" fill="#222"/><polygon points="558.3,1557.3 556.0999999999999,1564.3 560.5,1564.3" fill="#222"/><polygon points="558.3,1615.5 556.0999999999999,1608.5 560.5,1608.5" fill="#222"/><text x="553" y="1453" font-family="Liberation Sans" font-size="11" fill="#333" text-anchor="middle" transform="rotate(-90 553 1453)" >L</text><text x="553" y="1587.4" font-family="Liberation Sans" font-size="11" fill="#333" text-anchor="middle" transform="rotate(-90 553 1587.4)" >W</text><path d="M552,1557.3 L634.5,1557.3 M678,1557.3 L680,1557.3" stroke="#333" fill="none" stroke-width="1.0" /><path d="M552,1615.5 L673.5,1615.5" stroke="#333" fill="none" stroke-width="1.0" /><path d="M575,1583.4 L670.5,1583.4" stroke="#333" fill="none" stroke-width="1.0" /><path d="M614.7,1583.4 L614.7,1615.5" stroke="#333" fill="none" stroke-width="1.0" /><polygon points="614.7,1583.4 612.5,1590.4 616.9000000000001,1590.4" fill="#222"/><polygon points="614.7,1615.5 612.5,1608.5 616.9000000000001,1608.5" fill="#222"/><text x="609" y="1600.4" font-family="Liberation Sans" font-size="11" fill="#333" text-anchor="middle" transform="rotate(-90 609 1600.4)" >20</text><path d="M628.3,1566.3 L656.4,1566.3 M628.3,1566.3 L628.3,1583.4 M640.4,1566.3 L640.4,1583.4" stroke="#333" fill="none" stroke-width="1.0" /><path d="M636,1583.4 L636,1658.6 M656.8,1600 L656.8,1640 M656.8,1612 L672,1612" stroke="#333" fill="none" stroke-width="1.0" /><polygon points="671.5,1557.3 680,1557.3 685.5,1572 685.5,1583 678,1590 677,1612.5 671.5,1612.5" fill="url(#hatch)" stroke="#333" stroke-width="1"/><path d="M643.3,1536.5 C650,1555 656,1570 660,1585 C665,1598 670,1605 672.5,1608.5" stroke="#333" fill="none" stroke-width="1.0" /><text x="595.2" y="1574.3" font-family="Liberation Sans" font-size="12" fill="#333" text-anchor="start" >SW</text><path d="M598.2,1584.4 L628.3,1574.3" stroke="#333" fill="none" stroke-width="1.0" /><polygon points="628.3,1574.3 621.3,1572.1 621.3,1576.5" fill="#222"/><text x="655.4" y="1631.5" font-family="Liberation Sans" font-size="11.5" fill="#333" text-anchor="start" >d2</text><path d="M653.4,1634.6 L671.5,1634.6" stroke="#333" fill="none" stroke-width="1.0" /><polygon points="671.5,1634.6 664.5,1632.3999999999999 664.5,1636.8" fill="#222"/><text x="660.4" y="1649.6" font-family="Liberation Sans" font-size="11.5" fill="#333" text-anchor="middle" >F</text><path d="M636,1652.2 L677.5,1652.2" stroke="#333" fill="none" stroke-width="1.0" /><polygon points="636,1652.2 643,1650.0 643,1654.4" fill="#222"/><polygon points="677.5,1652.2 670.5,1650.0 670.5,1654.4" fill="#222"/><path d="M677.5,1612 L677.5,1658" stroke="#333" fill="none" stroke-width="1.0" /><path d="M677.5,1616.5 L682.5,1634.6 L728.7,1634.6" stroke="#333" fill="none" stroke-width="0.9" /><text x="686" y="1634.3" font-family="Liberation Sans" font-size="11.5" fill="#333" text-anchor="start" >密封面</text><text x="686" y="1647" font-family="Liberation Sans" font-size="11.5" fill="#333" text-anchor="start" >Sealing</text><text x="686" y="1660" font-family="Liberation Sans" font-size="11.5" fill="#333" text-anchor="start" >surface</text><path d="M575.1,1478 L575.1,1680 M738.7,1428 L738.7,1680" stroke="#333" fill="none" stroke-width="1.0" /><path d="M575.1,1674.3 L738.7,1674.3" stroke="#333" fill="none" stroke-width="1.0" /><polygon points="575.1,1674.3 582.1,1672.1 582.1,1676.5" fill="#222"/><polygon points="738.7,1674.3 731.7,1672.1 731.7,1676.5" fill="#222"/><text x="657.4" y="1671.7" font-family="Liberation Sans" font-size="11" fill="#333" text-anchor="middle" >ΦD</text><text x="763.8" y="1340.5" font-family="Liberation Sans" font-size="11.5" fill="#333" text-anchor="start" letter-spacing="0.3">1.充气口</text><text x="774.4" y="1354.4" font-family="Liberation Sans" font-size="11.5" fill="#333" text-anchor="start" letter-spacing="0.2">Air port</text><text x="763.8" y="1378.8" font-family="Liberation Sans" font-size="11.5" fill="#333" text-anchor="start" letter-spacing="0.3">2.压力容器</text><text x="774.4" y="1392.7" font-family="Liberation Sans" font-size="11.5" fill="#333" text-anchor="start" letter-spacing="0.2">body</text><text x="763.8" y="1412.8" font-family="Liberation Sans" font-size="11.5" fill="#333" text-anchor="start" letter-spacing="0.3">3.隔离环</text><text x="774.4" y="1427" font-family="Liberation Sans" font-size="11.5" fill="#333" text-anchor="start" letter-spacing="0.2">bladder</text><text x="763.8" y="1446.3" font-family="Liberation Sans" font-size="11.5" fill="#333" text-anchor="start" letter-spacing="0.3">4.隔膜(不可换)</text><text x="774.4" y="1460.2" font-family="Liberation Sans" font-size="11.5" fill="#333" text-anchor="start" letter-spacing="0.2">Diaphragm</text><text x="763.8" y="1495.6" font-family="Liberation Sans" font-size="11.5" fill="#333" text-anchor="start" letter-spacing="0.3">5.阀座</text><text x="774.4" y="1509.1" font-family="Liberation Sans" font-size="11.5" fill="#333" text-anchor="start" letter-spacing="0.2">valve seat</text><text x="763.8" y="1528.5" font-family="Liberation Sans" font-size="11.5" fill="#333" text-anchor="start" letter-spacing="0.3">6.油端接口</text><text x="774.4" y="1542" font-family="Liberation Sans" font-size="11.5" fill="#333" text-anchor="start" letter-spacing="0.2">oil port</text><path d="M677.7,1354.7 L706,1336.5 L760.9,1336.5" stroke="#333" fill="none" stroke-width="0.9" /><path d="M702.5,1390.5 L760,1380" stroke="#333" fill="none" stroke-width="0.9" /><path d="M730.8,1442.5 L762,1408.8" stroke="#333" fill="none" stroke-width="0.9" /><path d="M724.4,1464.5 L762,1442.3" stroke="#333" fill="none" stroke-width="0.9" /><path d="M660.4,1523.2 L758.8,1492" stroke="#333" fill="none" stroke-width="0.9" /><path d="M678.5,1597.4 L757.8,1526.2" stroke="#333" fill="none" stroke-width="0.9" /><polygon points="678.5,1597.4 685.5,1595.2 685.5,1599.6000000000001" fill="#222"/></svg>
<div style="position:absolute;left:5.5px;top:1826.0px;width:942.5px;height:86.0px;background:#8fa3d0"></div><div style="position:absolute;left:101.8px;top:1940.6px;width:85.2px;height:28.6px;background:#d3d3d3"></div><div style="position:absolute;left:271.0px;top:1940.6px;width:75.0px;height:28.6px;background:#d3d3d3"></div><div style="position:absolute;left:346.0px;top:1940.6px;width:75.5px;height:28.6px;background:#d3d3d3"></div><div style="position:absolute;left:101.8px;top:1997.9px;width:85.2px;height:28.6px;background:#d3d3d3"></div><div style="position:absolute;left:271.0px;top:1997.9px;width:75.0px;height:28.6px;background:#d3d3d3"></div><div style="position:absolute;left:346.0px;top:1997.9px;width:75.5px;height:28.6px;background:#d3d3d3"></div><div style="position:absolute;left:101.8px;top:2055.2px;width:85.2px;height:28.6px;background:#d3d3d3"></div><div style="position:absolute;left:271.0px;top:2055.2px;width:75.0px;height:28.6px;background:#d3d3d3"></div><div style="position:absolute;left:346.0px;top:2055.2px;width:75.5px;height:28.6px;background:#d3d3d3"></div><div style="position:absolute;left:101.8px;top:2112.4px;width:85.2px;height:28.6px;background:#d3d3d3"></div><div style="position:absolute;left:271.0px;top:2112.4px;width:75.0px;height:28.6px;background:#d3d3d3"></div><div style="position:absolute;left:346.0px;top:2112.4px;width:75.5px;height:28.6px;background:#d3d3d3"></div><div style="position:absolute;left:101.8px;top:2169.7px;width:85.2px;height:28.6px;background:#d3d3d3"></div><div style="position:absolute;left:271.0px;top:2169.7px;width:75.0px;height:28.6px;background:#d3d3d3"></div><div style="position:absolute;left:346.0px;top:2169.7px;width:75.5px;height:28.6px;background:#d3d3d3"></div><div style="position:absolute;left:421.5px;top:1969.3px;width:74.2px;height:171.8px;background:#d3d3d3"></div><div style="position:absolute;left:495.7px;top:1940.6px;width:126.6px;height:200.4px;background:#d3d3d3"></div><div style="position:absolute;left:707.8px;top:2026.5px;width:95.8px;height:171.8px;background:#d3d3d3"></div><div style="position:absolute;left:803.6px;top:2026.5px;width:72.4px;height:171.8px;background:#d3d3d3"></div><div style="position:absolute;left:876.0px;top:2026.5px;width:72.0px;height:114.5px;background:#d3d3d3"></div><div style="position:absolute;left:5.5px;top:2197.8px;width:942.5px;height:1px;background:#b5b5b5"></div><div style="position:absolute;left:5.0px;top:1912.0px;width:1px;height:286.3px;background:#b5b5b5"></div><div style="position:absolute;left:947.5px;top:1912.0px;width:1px;height:286.3px;background:#b5b5b5"></div><div style="position:absolute;left:101.3px;top:1912.0px;width:1px;height:286.3px;background:#b5b5b5"></div><div style="position:absolute;left:186.5px;top:1912.0px;width:1px;height:286.3px;background:#b5b5b5"></div><div style="position:absolute;left:270.5px;top:1912.0px;width:1px;height:286.3px;background:#b5b5b5"></div><div style="position:absolute;left:345.5px;top:1912.0px;width:1px;height:286.3px;background:#b5b5b5"></div><div style="position:absolute;left:421.0px;top:1912.0px;width:1px;height:286.3px;background:#b5b5b5"></div><div style="position:absolute;left:495.2px;top:1912.0px;width:1px;height:286.3px;background:#b5b5b5"></div><div style="position:absolute;left:621.8px;top:1912.0px;width:1px;height:286.3px;background:#b5b5b5"></div><div style="position:absolute;left:707.3px;top:1912.0px;width:1px;height:286.3px;background:#b5b5b5"></div><div style="position:absolute;left:803.1px;top:1912.0px;width:1px;height:286.3px;background:#b5b5b5"></div><div style="position:absolute;left:875.5px;top:1912.0px;width:1px;height:286.3px;background:#b5b5b5"></div><div style="position:absolute;left:101.8px;top:1940.1px;width:85.2px;height:1px;background:#b5b5b5"></div><div style="position:absolute;left:271.0px;top:1940.1px;width:75.0px;height:1px;background:#b5b5b5"></div><div style="position:absolute;left:346.0px;top:1940.1px;width:75.5px;height:1px;background:#b5b5b5"></div><div style="position:absolute;left:101.8px;top:1968.8px;width:85.2px;height:1px;background:#b5b5b5"></div><div style="position:absolute;left:271.0px;top:1968.8px;width:75.0px;height:1px;background:#b5b5b5"></div><div style="position:absolute;left:346.0px;top:1968.8px;width:75.5px;height:1px;background:#b5b5b5"></div><div style="position:absolute;left:101.8px;top:1997.4px;width:85.2px;height:1px;background:#b5b5b5"></div><div style="position:absolute;left:271.0px;top:1997.4px;width:75.0px;height:1px;background:#b5b5b5"></div><div style="position:absolute;left:346.0px;top:1997.4px;width:75.5px;height:1px;background:#b5b5b5"></div><div style="position:absolute;left:101.8px;top:2026.0px;width:85.2px;height:1px;background:#b5b5b5"></div><div style="position:absolute;left:271.0px;top:2026.0px;width:75.0px;height:1px;background:#b5b5b5"></div><div style="position:absolute;left:346.0px;top:2026.0px;width:75.5px;height:1px;background:#b5b5b5"></div><div style="position:absolute;left:101.8px;top:2054.7px;width:85.2px;height:1px;background:#b5b5b5"></div><div style="position:absolute;left:271.0px;top:2054.7px;width:75.0px;height:1px;background:#b5b5b5"></div><div style="position:absolute;left:346.0px;top:2054.7px;width:75.5px;height:1px;background:#b5b5b5"></div><div style="position:absolute;left:101.8px;top:2083.3px;width:85.2px;height:1px;background:#b5b5b5"></div><div style="position:absolute;left:271.0px;top:2083.3px;width:75.0px;height:1px;background:#b5b5b5"></div><div style="position:absolute;left:346.0px;top:2083.3px;width:75.5px;height:1px;background:#b5b5b5"></div><div style="position:absolute;left:101.8px;top:2111.9px;width:85.2px;height:1px;background:#b5b5b5"></div><div style="position:absolute;left:271.0px;top:2111.9px;width:75.0px;height:1px;background:#b5b5b5"></div><div style="position:absolute;left:346.0px;top:2111.9px;width:75.5px;height:1px;background:#b5b5b5"></div><div style="position:absolute;left:101.8px;top:2140.5px;width:85.2px;height:1px;background:#b5b5b5"></div><div style="position:absolute;left:271.0px;top:2140.5px;width:75.0px;height:1px;background:#b5b5b5"></div><div style="position:absolute;left:346.0px;top:2140.5px;width:75.5px;height:1px;background:#b5b5b5"></div><div style="position:absolute;left:101.8px;top:2169.2px;width:85.2px;height:1px;background:#b5b5b5"></div><div style="position:absolute;left:271.0px;top:2169.2px;width:75.0px;height:1px;background:#b5b5b5"></div><div style="position:absolute;left:346.0px;top:2169.2px;width:75.5px;height:1px;background:#b5b5b5"></div><div style="position:absolute;left:421.5px;top:1968.8px;width:74.2px;height:1px;background:#b5b5b5"></div><div style="position:absolute;left:421.5px;top:2140.5px;width:74.2px;height:1px;background:#b5b5b5"></div><div style="position:absolute;left:495.7px;top:1940.1px;width:126.6px;height:1px;background:#b5b5b5"></div><div style="position:absolute;left:495.7px;top:2140.5px;width:212.1px;height:1px;background:#b5b5b5"></div><div style="position:absolute;left:707.8px;top:2026.0px;width:240.2px;height:1px;background:#b5b5b5"></div><div style="position:absolute;left:876.0px;top:2140.5px;width:72.0px;height:1px;background:#b5b5b5"></div><div style="position:absolute;left:5.5px;top:1825.4px;width:942.5px;height:1.2px;background:#2f3d55"></div><div style="position:absolute;left:5.5px;top:1911.0px;width:942.5px;height:2px;background:#2f3d55"></div><div style="position:absolute;left:4.8px;top:1826.0px;width:1.5px;height:86.0px;background:#2f3d55"></div><div style="position:absolute;left:101.0px;top:1826.0px;width:1.5px;height:86.0px;background:#2f3d55"></div><div style="position:absolute;left:186.2px;top:1826.0px;width:1.5px;height:86.0px;background:#2f3d55"></div><div style="position:absolute;left:270.2px;top:1826.0px;width:1.5px;height:86.0px;background:#2f3d55"></div><div style="position:absolute;left:345.2px;top:1826.0px;width:1.5px;height:86.0px;background:#2f3d55"></div><div style="position:absolute;left:420.8px;top:1826.0px;width:1.5px;height:86.0px;background:#2f3d55"></div><div style="position:absolute;left:494.9px;top:1826.0px;width:1.5px;height:86.0px;background:#2f3d55"></div><div style="position:absolute;left:802.9px;top:1826.0px;width:1.5px;height:86.0px;background:#2f3d55"></div><div style="position:absolute;left:875.2px;top:1826.0px;width:1.5px;height:86.0px;background:#2f3d55"></div><div style="position:absolute;left:707.0px;top:1855.6px;width:1.5px;height:56.4px;background:#2f3d55"></div><div style="position:absolute;left:621.5px;top:1884.3px;width:1.5px;height:27.7px;background:#2f3d55"></div><div style="position:absolute;left:495.7px;top:1854.8px;width:307.9px;height:1.5px;background:#2f3d55"></div><div style="position:absolute;left:495.7px;top:1883.5px;width:307.9px;height:1.5px;background:#2f3d55"></div><div class="tx" style="left:5.5px;width:96.3px;top:1854.5px;font-size:14px;line-height:14px;color:#555;text-align:center;letter-spacing:1px;">型号/</div><div class="tx" style="left:5.5px;width:96.3px;top:1872.0px;font-size:15px;line-height:15px;color:#555;text-align:center;letter-spacing:0.5px;">Model</div><div class="tx" style="left:101.8px;width:85.2px;top:1835.5px;font-size:14px;line-height:14px;color:#555;text-align:center;letter-spacing:2px;">公称容积</div><div class="tx" style="left:101.8px;width:85.2px;top:1854.0px;font-size:15px;line-height:15px;color:#333;text-align:center;letter-spacing:0.6px;">Nominal</div><div class="tx" style="left:101.8px;width:85.2px;top:1872.0px;font-size:15px;line-height:15px;color:#333;text-align:center;letter-spacing:0.6px;">volume</div><div class="tx" style="left:101.8px;width:85.2px;top:1890.0px;font-size:15px;line-height:15px;color:#555;text-align:center;letter-spacing:0px;">L</div><div class="tx" style="left:187.0px;width:84.0px;top:1835.5px;font-size:14px;line-height:14px;color:#555;text-align:center;letter-spacing:2px;">工作压力</div><div class="tx" style="left:187.0px;width:84.0px;top:1854.0px;font-size:15px;line-height:15px;color:#333;text-align:center;letter-spacing:0.6px;">Nominal</div><div class="tx" style="left:187.0px;width:84.0px;top:1872.0px;font-size:15px;line-height:15px;color:#333;text-align:center;letter-spacing:0.6px;">pressure</div><div class="tx" style="left:187.0px;width:84.0px;top:1890.0px;font-size:15px;line-height:15px;color:#555;text-align:center;letter-spacing:0.6px;">MPa</div><div class="tx" style="left:271.0px;width:75.0px;top:1854.0px;font-size:15px;line-height:15px;color:#555;text-align:center;letter-spacing:1px;">ΦD</div><div class="tx" style="left:271.0px;width:75.0px;top:1872.0px;font-size:15px;line-height:15px;color:#555;text-align:center;letter-spacing:0px;">mm</div><div class="tx" style="left:346.0px;width:75.5px;top:1854.0px;font-size:15px;line-height:15px;color:#555;text-align:center;letter-spacing:1px;">L</div><div class="tx" style="left:346.0px;width:75.5px;top:1872.0px;font-size:15px;line-height:15px;color:#555;text-align:center;letter-spacing:0px;">mm</div><div class="tx" style="left:421.5px;width:74.2px;top:1854.0px;font-size:15px;line-height:15px;color:#555;text-align:center;letter-spacing:1px;">H</div><div class="tx" style="left:421.5px;width:74.2px;top:1872.0px;font-size:15px;line-height:15px;color:#555;text-align:center;letter-spacing:0px;">mm</div><div class="tx" style="left:495.7px;width:307.9px;top:1833.5px;font-size:14px;line-height:14px;color:#555;text-align:center;letter-spacing:3px;">油端接口</div><div class="tx" style="left:495.7px;width:212.1px;top:1862.0px;font-size:15px;line-height:15px;color:#555;text-align:center;letter-spacing:1px;">A型 /d1</div><div class="tx" style="left:707.8px;width:95.8px;top:1862.0px;font-size:15px;line-height:15px;color:#555;text-align:center;letter-spacing:1px;">C 型</div><div class="tx" style="left:495.7px;width:126.6px;top:1890.0px;font-size:15px;line-height:15px;color:#555;text-align:center;letter-spacing:0.5px;">公制/Metric</div><div class="tx" style="left:622.3px;width:85.5px;top:1890.0px;font-size:15px;line-height:15px;color:#555;text-align:center;letter-spacing:0.5px;">英制/Inch</div><div class="tx" style="left:707.8px;width:95.8px;top:1890.0px;font-size:15px;line-height:15px;color:#555;text-align:center;letter-spacing:1px;">F/</div><div class="tx" style="left:803.6px;width:72.4px;top:1854.0px;font-size:15px;line-height:15px;color:#555;text-align:center;letter-spacing:0px;">W</div><div class="tx" style="left:803.6px;width:72.4px;top:1872.0px;font-size:15px;line-height:15px;color:#555;text-align:center;letter-spacing:0px;">mm</div><div class="tx" style="left:876.0px;width:72.0px;top:1862.0px;font-size:15px;line-height:15px;color:#555;text-align:center;letter-spacing:0.5px;">SW</div><div class="tx" style="left:5.5px;width:96.3px;top:2046.5px;font-size:16px;line-height:16px;color:#333;text-align:center;letter-spacing:0.8px;">ADB-A</div><div class="tx" style="left:101.8px;width:85.2px;top:1918.3px;font-size:15px;line-height:15px;color:#333;text-align:center;letter-spacing:0.8px;">0.16</div><div class="tx" style="left:271.0px;width:75.0px;top:1918.3px;font-size:15px;line-height:15px;color:#333;text-align:center;letter-spacing:0.8px;">74</div><div class="tx" style="left:346.0px;width:75.5px;top:1918.3px;font-size:15px;line-height:15px;color:#333;text-align:center;letter-spacing:0.8px;">105</div><div class="tx" style="left:101.8px;width:85.2px;top:1946.9px;font-size:15px;line-height:15px;color:#333;text-align:center;letter-spacing:0.8px;">0.25</div><div class="tx" style="left:271.0px;width:75.0px;top:1946.9px;font-size:15px;line-height:15px;color:#333;text-align:center;letter-spacing:0.8px;">84</div><div class="tx" style="left:346.0px;width:75.5px;top:1946.9px;font-size:15px;line-height:15px;color:#333;text-align:center;letter-spacing:0.8px;">110</div><div class="tx" style="left:101.8px;width:85.2px;top:1975.6px;font-size:15px;line-height:15px;color:#333;text-align:center;letter-spacing:0.8px;">0.32</div><div class="tx" style="left:271.0px;width:75.0px;top:1975.6px;font-size:15px;line-height:15px;color:#333;text-align:center;letter-spacing:0.8px;">93</div><div class="tx" style="left:346.0px;width:75.5px;top:1975.6px;font-size:15px;line-height:15px;color:#333;text-align:center;letter-spacing:0.8px;">118</div><div class="tx" style="left:101.8px;width:85.2px;top:2004.2px;font-size:15px;line-height:15px;color:#333;text-align:center;letter-spacing:0.8px;">0.5</div><div class="tx" style="left:271.0px;width:75.0px;top:2004.2px;font-size:15px;line-height:15px;color:#333;text-align:center;letter-spacing:0.8px;">105</div><div class="tx" style="left:346.0px;width:75.5px;top:2004.2px;font-size:15px;line-height:15px;color:#333;text-align:center;letter-spacing:0.8px;">135</div><div class="tx" style="left:101.8px;width:85.2px;top:2032.8px;font-size:15px;line-height:15px;color:#333;text-align:center;letter-spacing:0.8px;">0.6</div><div class="tx" style="left:271.0px;width:75.0px;top:2032.8px;font-size:15px;line-height:15px;color:#333;text-align:center;letter-spacing:0.8px;">115</div><div class="tx" style="left:346.0px;width:75.5px;top:2032.8px;font-size:15px;line-height:15px;color:#333;text-align:center;letter-spacing:0.8px;">147</div><div class="tx" style="left:101.8px;width:85.2px;top:2061.5px;font-size:15px;line-height:15px;color:#333;text-align:center;letter-spacing:0.8px;">0.75</div><div class="tx" style="left:271.0px;width:75.0px;top:2061.5px;font-size:15px;line-height:15px;color:#333;text-align:center;letter-spacing:0.8px;">121</div><div class="tx" style="left:346.0px;width:75.5px;top:2061.5px;font-size:15px;line-height:15px;color:#333;text-align:center;letter-spacing:0.8px;">147</div><div class="tx" style="left:101.8px;width:85.2px;top:2090.1px;font-size:15px;line-height:15px;color:#333;text-align:center;letter-spacing:0.8px;">1</div><div class="tx" style="left:271.0px;width:75.0px;top:2090.1px;font-size:15px;line-height:15px;color:#333;text-align:center;letter-spacing:0.8px;">136</div><div class="tx" style="left:346.0px;width:75.5px;top:2090.1px;font-size:15px;line-height:15px;color:#333;text-align:center;letter-spacing:0.8px;">163</div><div class="tx" style="left:101.8px;width:85.2px;top:2118.7px;font-size:15px;line-height:15px;color:#333;text-align:center;letter-spacing:0.8px;">1.4</div><div class="tx" style="left:271.0px;width:75.0px;top:2118.7px;font-size:15px;line-height:15px;color:#333;text-align:center;letter-spacing:0.8px;">150</div><div class="tx" style="left:346.0px;width:75.5px;top:2118.7px;font-size:15px;line-height:15px;color:#333;text-align:center;letter-spacing:0.8px;">181</div><div class="tx" style="left:101.8px;width:85.2px;top:2147.4px;font-size:15px;line-height:15px;color:#333;text-align:center;letter-spacing:0.8px;">2</div><div class="tx" style="left:271.0px;width:75.0px;top:2147.4px;font-size:15px;line-height:15px;color:#333;text-align:center;letter-spacing:0.8px;">170/173</div><div class="tx" style="left:346.0px;width:75.5px;top:2147.4px;font-size:15px;line-height:15px;color:#333;text-align:center;letter-spacing:0.8px;">198</div><div class="tx" style="left:101.8px;width:85.2px;top:2176.0px;font-size:15px;line-height:15px;color:#333;text-align:center;letter-spacing:0.8px;">2.8</div><div class="tx" style="left:271.0px;width:75.0px;top:2176.0px;font-size:15px;line-height:15px;color:#333;text-align:center;letter-spacing:0.8px;">170/173</div><div class="tx" style="left:346.0px;width:75.5px;top:2176.0px;font-size:15px;line-height:15px;color:#333;text-align:center;letter-spacing:0.8px;">252</div><div class="tx" style="left:187.0px;width:84.0px;top:1974.0px;font-size:15px;line-height:15px;color:#333;text-align:center;letter-spacing:0.8px;">10</div><div class="tx" style="left:187.0px;width:84.0px;top:2047.0px;font-size:15px;line-height:15px;color:#333;text-align:center;letter-spacing:0.8px;">21</div><div class="tx" style="left:187.0px;width:84.0px;top:2119.0px;font-size:15px;line-height:15px;color:#333;text-align:center;letter-spacing:0.8px;">33</div><div class="tx" style="left:421.5px;width:74.2px;top:1933.0px;font-size:15px;line-height:15px;color:#333;text-align:center;letter-spacing:0.8px;">21</div><div class="tx" style="left:421.5px;width:74.2px;top:2047.0px;font-size:15px;line-height:15px;color:#333;text-align:center;letter-spacing:0.8px;">25</div><div class="tx" style="left:421.5px;width:74.2px;top:2162.0px;font-size:15px;line-height:15px;color:#333;text-align:center;letter-spacing:0.8px;">30</div><div class="tx" style="left:495.7px;width:126.6px;top:1919.1px;font-size:13.5px;line-height:13.5px;color:#333;text-align:center;letter-spacing:-0.3px;">M14x1.5/Φ18x2.4</div><div class="tx" style="left:495.7px;width:126.6px;top:2024.0px;font-size:15px;line-height:15px;color:#333;text-align:center;letter-spacing:0.8px;">M18x1.5</div><div class="tx" style="left:495.7px;width:126.6px;top:2042.0px;font-size:15px;line-height:15px;color:#333;text-align:center;letter-spacing:0.8px;">/Φ22x2.4</div><div class="tx" style="left:495.7px;width:126.6px;top:2153.0px;font-size:15px;line-height:15px;color:#333;text-align:center;letter-spacing:0.8px;">M22x1.5</div><div class="tx" style="left:495.7px;width:126.6px;top:2171.0px;font-size:15px;line-height:15px;color:#333;text-align:center;letter-spacing:0.8px;">/Φ30x3.1</div><div class="tx" style="left:622.3px;width:85.5px;top:2010.0px;font-size:15px;line-height:15px;color:#333;text-align:center;letter-spacing:0.8px;">G1/2</div><div class="tx" style="left:622.3px;width:85.5px;top:2028.0px;font-size:15px;line-height:15px;color:#333;text-align:center;letter-spacing:0.8px;">/Φ28x3.1</div><div class="tx" style="left:622.3px;width:85.5px;top:2153.0px;font-size:15px;line-height:15px;color:#333;text-align:center;letter-spacing:0.8px;">G3/4</div><div class="tx" style="left:622.3px;width:85.5px;top:2171.0px;font-size:15px;line-height:15px;color:#333;text-align:center;letter-spacing:0.8px;">/Φ32x3.1</div><div class="tx" style="left:707.8px;width:95.8px;top:1962.0px;font-size:15px;line-height:15px;color:#333;text-align:center;letter-spacing:0.8px;">M18x1.5</div><div class="tx" style="left:707.8px;width:95.8px;top:2061.0px;font-size:15px;line-height:15px;color:#333;text-align:center;letter-spacing:0.8px;">M33x1.5/</div><div class="tx" style="left:707.8px;width:95.8px;top:2147.0px;font-size:15px;line-height:15px;color:#333;text-align:center;letter-spacing:0.8px;">M45x1.5/</div><div class="tx" style="left:803.6px;width:72.4px;top:1962.0px;font-size:15px;line-height:15px;color:#333;text-align:center;letter-spacing:0.8px;">36</div><div class="tx" style="left:803.6px;width:72.4px;top:2119.0px;font-size:15px;line-height:15px;color:#333;text-align:center;letter-spacing:0.8px;">42</div><div class="tx" style="left:876.0px;width:72.0px;top:1962.0px;font-size:15px;line-height:15px;color:#333;text-align:center;letter-spacing:0.8px;">32</div><div class="tx" style="left:876.0px;width:72.0px;top:2076.0px;font-size:15px;line-height:15px;color:#333;text-align:center;letter-spacing:0.8px;">36</div><div class="tx" style="left:876.0px;width:72.0px;top:2162.0px;font-size:15px;line-height:15px;color:#333;text-align:center;letter-spacing:0.8px;">41/46</div>
<div class="tx" style="left:37px;top:455.5px;font-size:21px;line-height:21px;font-weight:bold;color:#3a5894;letter-spacing:1.852px;-webkit-text-stroke:0.3px #3a5894">一、概述/General Description</div>
<div class="tx" style="left:88px;top:492.0px;font-size:14px;line-height:14px;font-weight:normal;color:#333;letter-spacing:3.022px;-webkit-text-stroke:0.35px #333">ADB 系列隔膜式蓄能器用于吸收脉动,吸收冲击,补偿泄漏。</div>
<div class="tx" style="left:88px;top:514.2px;font-size:15.5px;line-height:15.5px;font-weight:normal;color:#333;letter-spacing:1.161px;-webkit-text-stroke:0.3px #333">ADB&nbsp; series diaphragm accumulaotr is for absorbing pulsation, impact and compensation leaks</div>
<div class="tx" style="left:37px;top:564.5px;font-size:21px;line-height:21px;font-weight:bold;color:#3a5894;letter-spacing:1.999px;-webkit-text-stroke:0.3px #3a5894">二、内部结构/Stucture</div>
<div class="tx" style="left:85px;top:597.8px;font-size:14.5px;line-height:14.5px;font-weight:normal;color:#333;letter-spacing:2.331px;-webkit-text-stroke:0.4px #333">隔膜式蓄能器 型式：焊接式</div>
<div class="tx" style="left:85px;top:616.8px;font-size:14.5px;line-height:14.5px;font-weight:normal;color:#333;letter-spacing:2.582px;-webkit-text-stroke:0.4px #333">A型焊接式</div>
<div class="tx" style="left:122px;top:634.8px;font-size:14.5px;line-height:14.5px;font-weight:normal;color:#333;letter-spacing:2.606px;-webkit-text-stroke:0.4px #333">焊接的压力容器，气端可用本公司生产的GCQJ</div>
<div class="tx" style="left:85px;top:653.8px;font-size:14.5px;line-height:14.5px;font-weight:normal;color:#333;letter-spacing:2.201px;-webkit-text-stroke:0.4px #333">充气工具充气,油端连接可有多种型式。</div>
<div class="tx" style="left:122px;top:672.8px;font-size:14.5px;line-height:14.5px;font-weight:normal;color:#333;letter-spacing:2.388px;-webkit-text-stroke:0.4px #333">柔性隔膜(不可更换)，用于隔离油液和气体。</div>
<div class="tx" style="left:122px;top:691.8px;font-size:14.5px;line-height:14.5px;font-weight:normal;color:#333;letter-spacing:3.344px;-webkit-text-stroke:0.4px #333">设置在隔膜底部的阀座。</div>
<div class="tx" style="left:519px;top:596.0px;font-size:14px;line-height:14px;font-weight:normal;color:#333;letter-spacing:0.837px;-webkit-text-stroke:0.3px #333">There are two types: the diaphragm accumulator welding type and screw type</div>
<div class="tx" style="left:519px;top:616.0px;font-size:14px;line-height:14px;font-weight:normal;color:#333;letter-spacing:0.952px;-webkit-text-stroke:0.3px #333">Welding Type A:</div>
<div class="tx" style="left:548px;top:636.0px;font-size:14px;line-height:14px;font-weight:normal;color:#333;letter-spacing:1.324px;-webkit-text-stroke:0.3px #333">Welding of pressure vessels,use chaori GCQJ charging, oil has been</div>
<div class="tx" style="left:519px;top:656.0px;font-size:14px;line-height:14px;font-weight:normal;color:#333;letter-spacing:0.874px;-webkit-text-stroke:0.3px #333">Connected to a variety of types.</div>
<div class="tx" style="left:548px;top:676.0px;font-size:14px;line-height:14px;font-weight:normal;color:#333;letter-spacing:0.746px;-webkit-text-stroke:0.3px #333">The flexible diaphragm (not change), is used to isolate the oil and gas.</div>
<div class="tx" style="left:548px;top:695.0px;font-size:14px;line-height:14px;font-weight:normal;color:#333;letter-spacing:0.694px;-webkit-text-stroke:0.3px #333">Set the diaphragm at the bottom of the seat.</div>
<div class="tx" style="left:37px;top:751.5px;font-size:21px;line-height:21px;font-weight:bold;color:#3a5894;letter-spacing:1.744px;-webkit-text-stroke:0.3px #3a5894">三、型号说明/Ordering Code</div>
<div class="tx" style="left:73px;top:854.5px;font-size:15px;line-height:15px;font-weight:bold;color:#222;letter-spacing:2.300px">名称代号:隔膜式蓄能器</div>
<div class="tx" style="left:73px;top:871.8px;font-size:14.5px;line-height:14.5px;font-weight:normal;color:#222;letter-spacing:0.799px;-webkit-text-stroke:0.35px #222">Product Name:Diaphragm accumulator</div>
<div class="tx" style="left:73px;top:921.5px;font-size:15px;line-height:15px;font-weight:bold;color:#222;letter-spacing:1.795px">结构型式：A型,B型</div>
<div class="tx" style="left:72px;top:971.5px;font-size:15px;line-height:15px;font-weight:normal;color:#222;letter-spacing:1.433px;-webkit-text-stroke:0.5px #222"><span style="font-size:1.1em">公称容积</span>/Nominal volume<span style="font-size:1.1em">：</span>0.16~3.5L</div>
<div class="tx" style="left:72px;top:1001.5px;font-size:15px;line-height:15px;font-weight:normal;color:#222;letter-spacing:1.607px;-webkit-text-stroke:0.5px #222"><span style="font-size:1.1em">设计压力</span>/Nominal pressure:&nbsp; 10~33MPa</div>
<div class="tx" style="left:72px;top:1030.5px;font-size:15px;line-height:15px;font-weight:bold;color:#222;letter-spacing:1.135px"><span style="font-size:1.05em">壳体材料：</span>&nbsp;1.<span style="font-size:1.05em">碳钢</span>&nbsp;&nbsp; 2.<span style="font-size:1.05em">不锈钢</span></div>
<div class="tx" style="left:72px;top:1061.5px;font-size:15px;line-height:15px;font-weight:normal;color:#222;letter-spacing:0.951px;-webkit-text-stroke:0.5px #222"><span style="font-size:1.05em">隔膜材料：</span>&nbsp;1.<span style="font-size:1.05em">丁腈</span> NBR&nbsp;&nbsp; 2.<span style="font-size:1.05em">丁基</span> IIR&nbsp; 3. <span style="font-size:1.05em">氟</span> FKM&nbsp; 4. <span style="font-size:1.05em">氯丁</span> ECO&nbsp;&nbsp; 5.<span style="font-size:1.05em">其它</span>.</div>
<div class="tx" style="left:72px;top:1112.8px;font-size:14.5px;line-height:14.5px;font-weight:bold;color:#222;letter-spacing:1.724px">液端连接形式：&nbsp;A：内螺纹&nbsp; B：其它&nbsp;&nbsp; C: 外螺纹</div>
<div class="tx" style="left:72px;top:1162.5px;font-size:15px;line-height:15px;font-weight:bold;color:#222;letter-spacing:2.000px">工厂预充压力</div>
<div class="tx" style="left:2px;top:1236.5px;font-size:21px;line-height:21px;font-weight:bold;color:#3a5894;letter-spacing:1.170px;-webkit-text-stroke:0.3px #3a5894">四、内部结构及外形尺寸/Stucture and Dimension</div>
<div class="tx" style="left:141px;top:1705.5px;font-size:21px;line-height:21px;font-weight:normal;color:#222;letter-spacing:0.996px;-webkit-text-stroke:0.5px #222">A型连接口</div>
<div class="tx" style="left:141px;top:1735.5px;font-size:13px;line-height:13px;font-weight:normal;color:#555;letter-spacing:0.706px">A chain of interface</div>
<div class="tx" style="left:606px;top:1705.5px;font-size:21px;line-height:21px;font-weight:normal;color:#222;letter-spacing:0.707px;-webkit-text-stroke:0.5px #222">C型连接口</div>
<div class="tx" style="left:597px;top:1735.5px;font-size:13px;line-height:13px;font-weight:normal;color:#555;letter-spacing:0.578px">C chain of interface</div>
<div class="tx" style="left:2px;top:1792.5px;font-size:21px;line-height:21px;font-weight:bold;color:#3a5894;letter-spacing:1.347px;-webkit-text-stroke:0.3px #3a5894">1.A型隔膜式蓄能器/A Type diaphragm Accumulator</div>
<div class="tx" style="left:35px;top:2251.5px;font-size:21px;line-height:21px;font-weight:bold;color:#3a5894;letter-spacing:0.482px;-webkit-text-stroke:0.3px #3a5894">五、订货说明/Booking Note</div>
<div class="tx" style="left:39px;top:2289.8px;font-size:14.5px;line-height:14.5px;font-weight:bold;color:#222;letter-spacing:1.445px">1.订货时须写明型号代号全称，如:公称容积为0.75L，设计压力21MPa,壳体材料为碳钢，隔膜材料为NBR螺纹连接，预充压力5MPa的焊接</div>
<div class="tx" style="left:53px;top:2310.5px;font-size:15px;line-height:15px;font-weight:normal;color:#222;letter-spacing:2.374px;-webkit-text-stroke:0.45px #222">隔膜式蓄能器，ADB-A-0.75/21-1-1-A-5</div>
<div class="tx" style="left:39px;top:2331.5px;font-size:15px;line-height:15px;font-weight:bold;color:#222;letter-spacing:2.044px">2.若对隔膜式蓄能器有接口尺寸等特殊要求时，请同本企业商洽。</div>
<div class="tx" style="left:39px;top:2352.5px;font-size:15px;line-height:15px;font-weight:bold;color:#222;letter-spacing:2.204px">3.本企业保留设计更改权，对修改不另行通知。</div>
<div class="tx" style="left:39px;top:2378.2px;font-size:15.5px;line-height:15.5px;font-weight:normal;color:#333;letter-spacing:0.951px;-webkit-text-stroke:0.3px #333">1.Full type code is needed when booking. For example：Nominal Pressure 33MPa,Nominal volune is 1L,Thread type AF,Hydraulic</div>
<div class="tx" style="left:55px;top:2400.2px;font-size:15.5px;line-height:15.5px;font-weight:normal;color:#333;letter-spacing:0.741px;-webkit-text-stroke:0.3px #333">liquid .</div>
<div class="tx" style="left:39px;top:2422.2px;font-size:15.5px;line-height:15.5px;font-weight:normal;color:#333;letter-spacing:0.859px;-webkit-text-stroke:0.3px #333">2.Contact us if special requirement is needed</div>
<div class="tx" style="left:39px;top:2444.2px;font-size:15.5px;line-height:15.5px;font-weight:normal;color:#333;letter-spacing:0.865px;-webkit-text-stroke:0.3px #333">3.Design change is retained by our company and amendment is effected without furtner notice.</div>
</body></html>
